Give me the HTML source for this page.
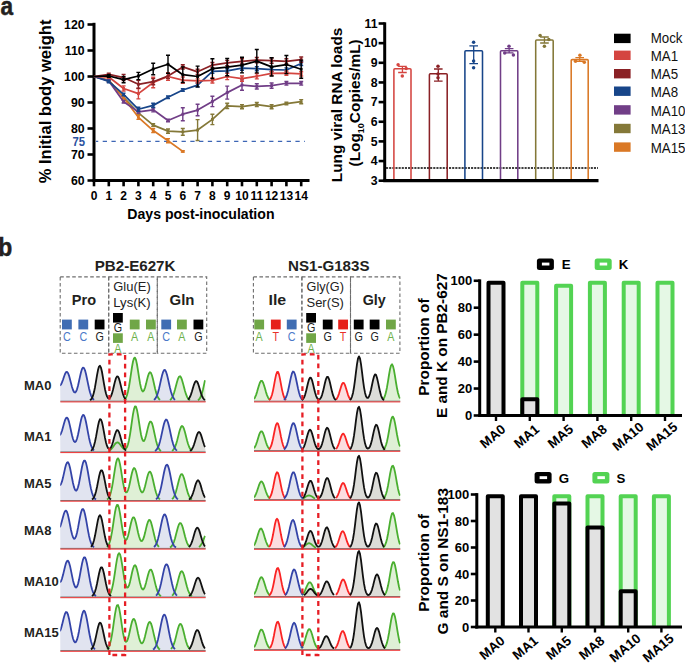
<!DOCTYPE html><html><head><meta charset="utf-8"><style>html,body{margin:0;padding:0;background:#fff;}svg{display:block;font-family:"Liberation Sans",sans-serif;}</style></head><body><svg width="685" height="664" viewBox="0 0 685 664"><text x="0.60" y="15.00" font-size="25.5" font-weight="bold" text-anchor="start" fill="#231f20" textLength="12.60" lengthAdjust="spacingAndGlyphs" stroke="#231f20" stroke-width="0.5">a</text>
<text x="-1.80" y="256.00" font-size="25.5" font-weight="bold" text-anchor="start" fill="#231f20" textLength="14.00" lengthAdjust="spacingAndGlyphs" stroke="#231f20" stroke-width="0.5">b</text>
<g stroke="#000" stroke-width="3" fill="none">
<line x1="94" y1="22.8" x2="94" y2="182"/>
<line x1="92.5" y1="180.5" x2="309.5" y2="180.5"/>
<line x1="87.5" y1="180.50" x2="94" y2="180.50" stroke-width="2.6"/>
<line x1="87.5" y1="154.50" x2="94" y2="154.50" stroke-width="2.6"/>
<line x1="87.5" y1="128.50" x2="94" y2="128.50" stroke-width="2.6"/>
<line x1="87.5" y1="102.50" x2="94" y2="102.50" stroke-width="2.6"/>
<line x1="87.5" y1="76.50" x2="94" y2="76.50" stroke-width="2.6"/>
<line x1="87.5" y1="50.50" x2="94" y2="50.50" stroke-width="2.6"/>
<line x1="87.5" y1="24.50" x2="94" y2="24.50" stroke-width="2.6"/>
<line x1="94.00" y1="180.5" x2="94.00" y2="186.3" stroke-width="2.6"/>
<line x1="108.80" y1="180.5" x2="108.80" y2="186.3" stroke-width="2.6"/>
<line x1="123.60" y1="180.5" x2="123.60" y2="186.3" stroke-width="2.6"/>
<line x1="138.40" y1="180.5" x2="138.40" y2="186.3" stroke-width="2.6"/>
<line x1="153.20" y1="180.5" x2="153.20" y2="186.3" stroke-width="2.6"/>
<line x1="168.00" y1="180.5" x2="168.00" y2="186.3" stroke-width="2.6"/>
<line x1="182.80" y1="180.5" x2="182.80" y2="186.3" stroke-width="2.6"/>
<line x1="197.60" y1="180.5" x2="197.60" y2="186.3" stroke-width="2.6"/>
<line x1="212.40" y1="180.5" x2="212.40" y2="186.3" stroke-width="2.6"/>
<line x1="227.20" y1="180.5" x2="227.20" y2="186.3" stroke-width="2.6"/>
<line x1="242.00" y1="180.5" x2="242.00" y2="186.3" stroke-width="2.6"/>
<line x1="256.80" y1="180.5" x2="256.80" y2="186.3" stroke-width="2.6"/>
<line x1="271.60" y1="180.5" x2="271.60" y2="186.3" stroke-width="2.6"/>
<line x1="286.40" y1="180.5" x2="286.40" y2="186.3" stroke-width="2.6"/>
<line x1="301.20" y1="180.5" x2="301.20" y2="186.3" stroke-width="2.6"/>
</g>
<text x="84.60" y="184.80" font-size="12.3" font-weight="bold" text-anchor="end" fill="#000" >60</text>
<text x="84.60" y="158.80" font-size="12.3" font-weight="bold" text-anchor="end" fill="#000" >70</text>
<text x="84.60" y="132.80" font-size="12.3" font-weight="bold" text-anchor="end" fill="#000" >80</text>
<text x="84.60" y="106.80" font-size="12.3" font-weight="bold" text-anchor="end" fill="#000" >90</text>
<text x="84.60" y="80.80" font-size="12.3" font-weight="bold" text-anchor="end" fill="#000" >100</text>
<text x="84.60" y="54.80" font-size="12.3" font-weight="bold" text-anchor="end" fill="#000" >110</text>
<text x="84.60" y="28.80" font-size="12.3" font-weight="bold" text-anchor="end" fill="#000" >120</text>
<text x="94.00" y="200.30" font-size="12" font-weight="bold" text-anchor="middle" fill="#000" >0</text>
<text x="108.80" y="200.30" font-size="12" font-weight="bold" text-anchor="middle" fill="#000" >1</text>
<text x="123.60" y="200.30" font-size="12" font-weight="bold" text-anchor="middle" fill="#000" >2</text>
<text x="138.40" y="200.30" font-size="12" font-weight="bold" text-anchor="middle" fill="#000" >3</text>
<text x="153.20" y="200.30" font-size="12" font-weight="bold" text-anchor="middle" fill="#000" >4</text>
<text x="168.00" y="200.30" font-size="12" font-weight="bold" text-anchor="middle" fill="#000" >5</text>
<text x="182.80" y="200.30" font-size="12" font-weight="bold" text-anchor="middle" fill="#000" >6</text>
<text x="197.60" y="200.30" font-size="12" font-weight="bold" text-anchor="middle" fill="#000" >7</text>
<text x="212.40" y="200.30" font-size="12" font-weight="bold" text-anchor="middle" fill="#000" >8</text>
<text x="227.20" y="200.30" font-size="12" font-weight="bold" text-anchor="middle" fill="#000" >9</text>
<text x="242.00" y="200.30" font-size="12" font-weight="bold" text-anchor="middle" fill="#000" >10</text>
<text x="256.80" y="200.30" font-size="12" font-weight="bold" text-anchor="middle" fill="#000" >11</text>
<text x="271.60" y="200.30" font-size="12" font-weight="bold" text-anchor="middle" fill="#000" >12</text>
<text x="286.40" y="200.30" font-size="12" font-weight="bold" text-anchor="middle" fill="#000" >13</text>
<text x="301.20" y="200.30" font-size="12" font-weight="bold" text-anchor="middle" fill="#000" >14</text>
<text x="85.00" y="146.30" font-size="12.8" font-weight="bold" text-anchor="end" fill="#2c52a0" textLength="12.60" lengthAdjust="spacingAndGlyphs" >75</text>
<line x1="96" y1="141.4" x2="305" y2="141.4" stroke="#3d66b5" stroke-width="1.2" stroke-dasharray="4.3 4.46" stroke-dashoffset="2.06"/>
<text x="127.30" y="218.50" font-size="14.5" font-weight="bold" text-anchor="start" fill="#000" textLength="147.20" lengthAdjust="spacingAndGlyphs" >Days post-inoculation</text>
<g transform="translate(50.6,183.3) rotate(-90)">
<text x="0.00" y="0.00" font-size="16.4" font-weight="bold" text-anchor="start" fill="#000" textLength="163.70" lengthAdjust="spacingAndGlyphs" >% Initial body weight</text>
</g>
<polyline points="94.00,76.50 108.80,80.40 123.60,97.30 138.40,112.90 153.20,125.12 168.00,131.10 182.80,131.88 197.60,130.06 212.40,119.40 227.20,105.88 242.00,106.66 256.80,104.58 271.60,106.66 286.40,103.54 301.20,101.72" fill="none" stroke="#847838" stroke-width="1.75" stroke-linejoin="round"/>
<g fill="#847838"><rect x="107.40" y="79.00" width="2.8" height="2.8"/><path d="M108.80 79.10V81.70M106.80 79.10h4M106.80 81.70h4" stroke="#847838" stroke-width="1.4" fill="none"/><rect x="122.20" y="95.90" width="2.8" height="2.8"/><path d="M123.60 96.00V98.60M121.60 96.00h4M121.60 98.60h4" stroke="#847838" stroke-width="1.4" fill="none"/><rect x="137.00" y="111.50" width="2.8" height="2.8"/><path d="M138.40 111.60V114.20M136.40 111.60h4M136.40 114.20h4" stroke="#847838" stroke-width="1.4" fill="none"/><rect x="151.80" y="123.72" width="2.8" height="2.8"/><path d="M153.20 123.82V126.42M151.20 123.82h4M151.20 126.42h4" stroke="#847838" stroke-width="1.4" fill="none"/><rect x="166.60" y="129.70" width="2.8" height="2.8"/><path d="M168.00 129.02V133.18M166.00 129.02h4M166.00 133.18h4" stroke="#847838" stroke-width="1.4" fill="none"/><rect x="181.40" y="130.48" width="2.8" height="2.8"/><path d="M182.80 128.50V135.26M180.80 128.50h4M180.80 135.26h4" stroke="#847838" stroke-width="1.4" fill="none"/><rect x="196.20" y="128.66" width="2.8" height="2.8"/><path d="M197.60 119.66V140.46M195.60 119.66h4M195.60 140.46h4" stroke="#847838" stroke-width="1.4" fill="none"/><rect x="211.00" y="118.00" width="2.8" height="2.8"/><path d="M212.40 114.20V124.60M210.40 114.20h4M210.40 124.60h4" stroke="#847838" stroke-width="1.4" fill="none"/><rect x="225.80" y="104.48" width="2.8" height="2.8"/><path d="M227.20 103.28V108.48M225.20 103.28h4M225.20 108.48h4" stroke="#847838" stroke-width="1.4" fill="none"/><rect x="240.60" y="105.26" width="2.8" height="2.8"/><path d="M242.00 104.58V108.74M240.00 104.58h4M240.00 108.74h4" stroke="#847838" stroke-width="1.4" fill="none"/><rect x="255.40" y="103.18" width="2.8" height="2.8"/><path d="M256.80 102.50V106.66M254.80 102.50h4M254.80 106.66h4" stroke="#847838" stroke-width="1.4" fill="none"/><rect x="270.20" y="105.26" width="2.8" height="2.8"/><path d="M271.60 104.58V108.74M269.60 104.58h4M269.60 108.74h4" stroke="#847838" stroke-width="1.4" fill="none"/><rect x="285.00" y="102.14" width="2.8" height="2.8"/><path d="M286.40 102.24V104.84M284.40 102.24h4M284.40 104.84h4" stroke="#847838" stroke-width="1.4" fill="none"/><rect x="299.80" y="100.32" width="2.8" height="2.8"/><path d="M301.20 99.64V103.80M299.20 99.64h4M299.20 103.80h4" stroke="#847838" stroke-width="1.4" fill="none"/></g>
<polyline points="94.00,76.50 108.80,80.40 123.60,97.82 138.40,117.32 153.20,130.58 168.00,140.72 182.80,151.38" fill="none" stroke="#da7825" stroke-width="1.75" stroke-linejoin="round"/>
<g fill="#da7825"><rect x="107.40" y="79.00" width="2.8" height="2.8"/><path d="M108.80 79.10V81.70M106.80 79.10h4M106.80 81.70h4" stroke="#da7825" stroke-width="1.4" fill="none"/><rect x="122.20" y="96.42" width="2.8" height="2.8"/><path d="M123.60 96.52V99.12M121.60 96.52h4M121.60 99.12h4" stroke="#da7825" stroke-width="1.4" fill="none"/><rect x="137.00" y="115.92" width="2.8" height="2.8"/><path d="M138.40 115.24V119.40M136.40 115.24h4M136.40 119.40h4" stroke="#da7825" stroke-width="1.4" fill="none"/><rect x="151.80" y="129.18" width="2.8" height="2.8"/><path d="M153.20 128.50V132.66M151.20 128.50h4M151.20 132.66h4" stroke="#da7825" stroke-width="1.4" fill="none"/><rect x="166.60" y="139.32" width="2.8" height="2.8"/><path d="M168.00 138.64V142.80M166.00 138.64h4M166.00 142.80h4" stroke="#da7825" stroke-width="1.4" fill="none"/><rect x="181.40" y="149.98" width="2.8" height="2.8"/><path d="M182.80 150.60V152.16M180.80 150.60h4M180.80 152.16h4" stroke="#da7825" stroke-width="1.4" fill="none"/></g>
<polyline points="94.00,76.50 108.80,80.92 123.60,101.72 138.40,111.86 153.20,109.78 168.00,120.44 182.80,114.20 197.60,110.04 212.40,101.46 227.20,92.62 242.00,85.08 256.80,86.38 271.60,85.60 286.40,83.26 301.20,83.26" fill="none" stroke="#713e87" stroke-width="1.75" stroke-linejoin="round"/>
<g fill="#713e87"><rect x="107.40" y="79.52" width="2.8" height="2.8"/><path d="M108.80 79.62V82.22M106.80 79.62h4M106.80 82.22h4" stroke="#713e87" stroke-width="1.4" fill="none"/><rect x="122.20" y="100.32" width="2.8" height="2.8"/><path d="M123.60 100.42V103.02M121.60 100.42h4M121.60 103.02h4" stroke="#713e87" stroke-width="1.4" fill="none"/><rect x="137.00" y="110.46" width="2.8" height="2.8"/><path d="M138.40 110.56V113.16M136.40 110.56h4M136.40 113.16h4" stroke="#713e87" stroke-width="1.4" fill="none"/><rect x="151.80" y="108.38" width="2.8" height="2.8"/><path d="M153.20 107.70V111.86M151.20 107.70h4M151.20 111.86h4" stroke="#713e87" stroke-width="1.4" fill="none"/><rect x="166.60" y="119.04" width="2.8" height="2.8"/><path d="M168.00 119.14V121.74M166.00 119.14h4M166.00 121.74h4" stroke="#713e87" stroke-width="1.4" fill="none"/><rect x="181.40" y="112.80" width="2.8" height="2.8"/><path d="M182.80 107.70V120.70M180.80 107.70h4M180.80 120.70h4" stroke="#713e87" stroke-width="1.4" fill="none"/><rect x="196.20" y="108.64" width="2.8" height="2.8"/><path d="M197.60 104.32V115.76M195.60 104.32h4M195.60 115.76h4" stroke="#713e87" stroke-width="1.4" fill="none"/><rect x="211.00" y="100.06" width="2.8" height="2.8"/><path d="M212.40 96.26V106.66M210.40 96.26h4M210.40 106.66h4" stroke="#713e87" stroke-width="1.4" fill="none"/><rect x="225.80" y="91.22" width="2.8" height="2.8"/><path d="M227.20 86.12V99.12M225.20 86.12h4M225.20 99.12h4" stroke="#713e87" stroke-width="1.4" fill="none"/><rect x="240.60" y="83.68" width="2.8" height="2.8"/><path d="M242.00 79.88V90.28M240.00 79.88h4M240.00 90.28h4" stroke="#713e87" stroke-width="1.4" fill="none"/><rect x="255.40" y="84.98" width="2.8" height="2.8"/><path d="M256.80 83.78V88.98M254.80 83.78h4M254.80 88.98h4" stroke="#713e87" stroke-width="1.4" fill="none"/><rect x="270.20" y="84.20" width="2.8" height="2.8"/><path d="M271.60 83.00V88.20M269.60 83.00h4M269.60 88.20h4" stroke="#713e87" stroke-width="1.4" fill="none"/><rect x="285.00" y="81.86" width="2.8" height="2.8"/><path d="M286.40 81.44V85.08M284.40 81.44h4M284.40 85.08h4" stroke="#713e87" stroke-width="1.4" fill="none"/><rect x="299.80" y="81.86" width="2.8" height="2.8"/><path d="M301.20 81.44V85.08M299.20 81.44h4M299.20 85.08h4" stroke="#713e87" stroke-width="1.4" fill="none"/></g>
<polyline points="94.00,76.50 108.80,81.44 123.60,94.44 138.40,109.26 153.20,105.36 168.00,97.30 182.80,90.02 197.60,85.08 212.40,71.30 227.20,70.78 242.00,68.18 256.80,68.70 271.60,69.74 286.40,70.00 301.20,63.50" fill="none" stroke="#174589" stroke-width="1.75" stroke-linejoin="round"/>
<g fill="#174589"><rect x="107.40" y="80.04" width="2.8" height="2.8"/><path d="M108.80 80.14V82.74M106.80 80.14h4M106.80 82.74h4" stroke="#174589" stroke-width="1.4" fill="none"/><rect x="122.20" y="93.04" width="2.8" height="2.8"/><path d="M123.60 93.14V95.74M121.60 93.14h4M121.60 95.74h4" stroke="#174589" stroke-width="1.4" fill="none"/><rect x="137.00" y="107.86" width="2.8" height="2.8"/><path d="M138.40 107.18V111.34M136.40 107.18h4M136.40 111.34h4" stroke="#174589" stroke-width="1.4" fill="none"/><rect x="151.80" y="103.96" width="2.8" height="2.8"/><path d="M153.20 103.28V107.44M151.20 103.28h4M151.20 107.44h4" stroke="#174589" stroke-width="1.4" fill="none"/><rect x="166.60" y="95.90" width="2.8" height="2.8"/><path d="M168.00 96.00V98.60M166.00 96.00h4M166.00 98.60h4" stroke="#174589" stroke-width="1.4" fill="none"/><rect x="181.40" y="88.62" width="2.8" height="2.8"/><path d="M182.80 88.72V91.32M180.80 88.72h4M180.80 91.32h4" stroke="#174589" stroke-width="1.4" fill="none"/><rect x="196.20" y="83.68" width="2.8" height="2.8"/><path d="M197.60 83.00V87.16M195.60 83.00h4M195.60 87.16h4" stroke="#174589" stroke-width="1.4" fill="none"/><rect x="211.00" y="69.90" width="2.8" height="2.8"/><path d="M212.40 69.22V73.38M210.40 69.22h4M210.40 73.38h4" stroke="#174589" stroke-width="1.4" fill="none"/><rect x="225.80" y="69.38" width="2.8" height="2.8"/><path d="M227.20 68.70V72.86M225.20 68.70h4M225.20 72.86h4" stroke="#174589" stroke-width="1.4" fill="none"/><rect x="240.60" y="66.78" width="2.8" height="2.8"/><path d="M242.00 66.10V70.26M240.00 66.10h4M240.00 70.26h4" stroke="#174589" stroke-width="1.4" fill="none"/><rect x="255.40" y="67.30" width="2.8" height="2.8"/><path d="M256.80 66.62V70.78M254.80 66.62h4M254.80 70.78h4" stroke="#174589" stroke-width="1.4" fill="none"/><rect x="270.20" y="68.34" width="2.8" height="2.8"/><path d="M271.60 67.66V71.82M269.60 67.66h4M269.60 71.82h4" stroke="#174589" stroke-width="1.4" fill="none"/><rect x="285.00" y="68.60" width="2.8" height="2.8"/><path d="M286.40 67.92V72.08M284.40 67.92h4M284.40 72.08h4" stroke="#174589" stroke-width="1.4" fill="none"/><rect x="299.80" y="62.10" width="2.8" height="2.8"/><path d="M301.20 61.42V65.58M299.20 61.42h4M299.20 65.58h4" stroke="#174589" stroke-width="1.4" fill="none"/></g>
<polyline points="94.00,76.50 108.80,77.02 123.60,88.46 138.40,93.66 153.20,82.48 168.00,76.50 182.80,80.14 197.60,80.92 212.40,80.40 227.20,76.50 242.00,78.58 256.80,76.24 271.60,73.38 286.40,73.12 301.20,73.90" fill="none" stroke="#d44540" stroke-width="1.75" stroke-linejoin="round"/>
<g fill="#d44540"><rect x="107.40" y="75.62" width="2.8" height="2.8"/><path d="M108.80 75.72V78.32M106.80 75.72h4M106.80 78.32h4" stroke="#d44540" stroke-width="1.4" fill="none"/><rect x="122.20" y="87.06" width="2.8" height="2.8"/><path d="M123.60 85.86V91.06M121.60 85.86h4M121.60 91.06h4" stroke="#d44540" stroke-width="1.4" fill="none"/><rect x="137.00" y="92.26" width="2.8" height="2.8"/><path d="M138.40 88.46V98.86M136.40 88.46h4M136.40 98.86h4" stroke="#d44540" stroke-width="1.4" fill="none"/><rect x="151.80" y="81.08" width="2.8" height="2.8"/><path d="M153.20 77.28V87.68M151.20 77.28h4M151.20 87.68h4" stroke="#d44540" stroke-width="1.4" fill="none"/><rect x="166.60" y="75.10" width="2.8" height="2.8"/><path d="M168.00 72.60V80.40M166.00 72.60h4M166.00 80.40h4" stroke="#d44540" stroke-width="1.4" fill="none"/><rect x="181.40" y="78.74" width="2.8" height="2.8"/><path d="M182.80 77.02V83.26M180.80 77.02h4M180.80 83.26h4" stroke="#d44540" stroke-width="1.4" fill="none"/><rect x="196.20" y="79.52" width="2.8" height="2.8"/><path d="M197.60 78.84V83.00M195.60 78.84h4M195.60 83.00h4" stroke="#d44540" stroke-width="1.4" fill="none"/><rect x="211.00" y="79.00" width="2.8" height="2.8"/><path d="M212.40 77.80V83.00M210.40 77.80h4M210.40 83.00h4" stroke="#d44540" stroke-width="1.4" fill="none"/><rect x="225.80" y="75.10" width="2.8" height="2.8"/><path d="M227.20 73.38V79.62M225.20 73.38h4M225.20 79.62h4" stroke="#d44540" stroke-width="1.4" fill="none"/><rect x="240.60" y="77.18" width="2.8" height="2.8"/><path d="M242.00 75.98V81.18M240.00 75.98h4M240.00 81.18h4" stroke="#d44540" stroke-width="1.4" fill="none"/><rect x="255.40" y="74.84" width="2.8" height="2.8"/><path d="M256.80 73.64V78.84M254.80 73.64h4M254.80 78.84h4" stroke="#d44540" stroke-width="1.4" fill="none"/><rect x="270.20" y="71.98" width="2.8" height="2.8"/><path d="M271.60 71.30V75.46M269.60 71.30h4M269.60 75.46h4" stroke="#d44540" stroke-width="1.4" fill="none"/><rect x="285.00" y="71.72" width="2.8" height="2.8"/><path d="M286.40 71.04V75.20M284.40 71.04h4M284.40 75.20h4" stroke="#d44540" stroke-width="1.4" fill="none"/><rect x="299.80" y="72.50" width="2.8" height="2.8"/><path d="M301.20 71.82V75.98M299.20 71.82h4M299.20 75.98h4" stroke="#d44540" stroke-width="1.4" fill="none"/></g>
<polyline points="94.00,76.50 108.80,74.42 123.60,77.54 138.40,84.30 153.20,81.70 168.00,75.98 182.80,66.88 197.60,71.82 212.40,65.06 227.20,62.98 242.00,61.42 256.80,60.12 271.60,60.64 286.40,61.42 301.20,59.60" fill="none" stroke="#8a2125" stroke-width="1.75" stroke-linejoin="round"/>
<g fill="#8a2125"><rect x="107.40" y="73.02" width="2.8" height="2.8"/><path d="M108.80 73.12V75.72M106.80 73.12h4M106.80 75.72h4" stroke="#8a2125" stroke-width="1.4" fill="none"/><rect x="122.20" y="76.14" width="2.8" height="2.8"/><path d="M123.60 74.42V80.66M121.60 74.42h4M121.60 80.66h4" stroke="#8a2125" stroke-width="1.4" fill="none"/><rect x="137.00" y="82.90" width="2.8" height="2.8"/><path d="M138.40 80.40V88.20M136.40 80.40h4M136.40 88.20h4" stroke="#8a2125" stroke-width="1.4" fill="none"/><rect x="151.80" y="80.30" width="2.8" height="2.8"/><path d="M153.20 78.58V84.82M151.20 78.58h4M151.20 84.82h4" stroke="#8a2125" stroke-width="1.4" fill="none"/><rect x="166.60" y="74.58" width="2.8" height="2.8"/><path d="M168.00 73.38V78.58M166.00 73.38h4M166.00 78.58h4" stroke="#8a2125" stroke-width="1.4" fill="none"/><rect x="181.40" y="65.48" width="2.8" height="2.8"/><path d="M182.80 64.80V68.96M180.80 64.80h4M180.80 68.96h4" stroke="#8a2125" stroke-width="1.4" fill="none"/><rect x="196.20" y="70.42" width="2.8" height="2.8"/><path d="M197.60 69.22V74.42M195.60 69.22h4M195.60 74.42h4" stroke="#8a2125" stroke-width="1.4" fill="none"/><rect x="211.00" y="63.66" width="2.8" height="2.8"/><path d="M212.40 62.46V67.66M210.40 62.46h4M210.40 67.66h4" stroke="#8a2125" stroke-width="1.4" fill="none"/><rect x="225.80" y="61.58" width="2.8" height="2.8"/><path d="M227.20 60.38V65.58M225.20 60.38h4M225.20 65.58h4" stroke="#8a2125" stroke-width="1.4" fill="none"/><rect x="240.60" y="60.02" width="2.8" height="2.8"/><path d="M242.00 58.82V64.02M240.00 58.82h4M240.00 64.02h4" stroke="#8a2125" stroke-width="1.4" fill="none"/><rect x="255.40" y="58.72" width="2.8" height="2.8"/><path d="M256.80 57.52V62.72M254.80 57.52h4M254.80 62.72h4" stroke="#8a2125" stroke-width="1.4" fill="none"/><rect x="270.20" y="59.24" width="2.8" height="2.8"/><path d="M271.60 58.04V63.24M269.60 58.04h4M269.60 63.24h4" stroke="#8a2125" stroke-width="1.4" fill="none"/><rect x="285.00" y="60.02" width="2.8" height="2.8"/><path d="M286.40 58.82V64.02M284.40 58.82h4M284.40 64.02h4" stroke="#8a2125" stroke-width="1.4" fill="none"/><rect x="299.80" y="58.20" width="2.8" height="2.8"/><path d="M301.20 57.00V62.20M299.20 57.00h4M299.20 62.20h4" stroke="#8a2125" stroke-width="1.4" fill="none"/></g>
<polyline points="94.00,76.50 108.80,75.98 123.60,79.62 138.40,75.98 153.20,68.96 168.00,64.28 182.80,74.68 197.60,76.50 212.40,68.70 227.20,67.14 242.00,65.06 256.80,61.16 271.60,66.88 286.40,64.54 301.20,69.22" fill="none" stroke="#000000" stroke-width="1.75" stroke-linejoin="round"/>
<g fill="#000000"><rect x="107.40" y="74.58" width="2.8" height="2.8"/><path d="M108.80 74.68V77.28M106.80 74.68h4M106.80 77.28h4" stroke="#000000" stroke-width="1.4" fill="none"/><rect x="122.20" y="78.22" width="2.8" height="2.8"/><path d="M123.60 76.50V82.74M121.60 76.50h4M121.60 82.74h4" stroke="#000000" stroke-width="1.4" fill="none"/><rect x="137.00" y="74.58" width="2.8" height="2.8"/><path d="M138.40 72.34V79.62M136.40 72.34h4M136.40 79.62h4" stroke="#000000" stroke-width="1.4" fill="none"/><rect x="151.80" y="67.56" width="2.8" height="2.8"/><path d="M153.20 63.24V74.68M151.20 63.24h4M151.20 74.68h4" stroke="#000000" stroke-width="1.4" fill="none"/><rect x="166.60" y="62.88" width="2.8" height="2.8"/><path d="M168.00 55.18V73.38M166.00 55.18h4M166.00 73.38h4" stroke="#000000" stroke-width="1.4" fill="none"/><rect x="181.40" y="73.28" width="2.8" height="2.8"/><path d="M182.80 66.88V82.48M180.80 66.88h4M180.80 82.48h4" stroke="#000000" stroke-width="1.4" fill="none"/><rect x="196.20" y="75.10" width="2.8" height="2.8"/><path d="M197.60 66.10V86.90M195.60 66.10h4M195.60 86.90h4" stroke="#000000" stroke-width="1.4" fill="none"/><rect x="211.00" y="67.30" width="2.8" height="2.8"/><path d="M212.40 58.82V78.58M210.40 58.82h4M210.40 78.58h4" stroke="#000000" stroke-width="1.4" fill="none"/><rect x="225.80" y="65.74" width="2.8" height="2.8"/><path d="M227.20 58.56V75.72M225.20 58.56h4M225.20 75.72h4" stroke="#000000" stroke-width="1.4" fill="none"/><rect x="240.60" y="63.66" width="2.8" height="2.8"/><path d="M242.00 57.26V72.86M240.00 57.26h4M240.00 72.86h4" stroke="#000000" stroke-width="1.4" fill="none"/><rect x="255.40" y="59.76" width="2.8" height="2.8"/><path d="M256.80 49.46V72.86M254.80 49.46h4M254.80 72.86h4" stroke="#000000" stroke-width="1.4" fill="none"/><rect x="270.20" y="65.48" width="2.8" height="2.8"/><path d="M271.60 57.78V75.98M269.60 57.78h4M269.60 75.98h4" stroke="#000000" stroke-width="1.4" fill="none"/><rect x="285.00" y="63.14" width="2.8" height="2.8"/><path d="M286.40 55.44V73.64M284.40 55.44h4M284.40 73.64h4" stroke="#000000" stroke-width="1.4" fill="none"/><rect x="299.80" y="67.82" width="2.8" height="2.8"/><path d="M301.20 60.12V78.32M299.20 60.12h4M299.20 78.32h4" stroke="#000000" stroke-width="1.4" fill="none"/></g>
<g stroke="#000" fill="none">
<line x1="384.7" y1="22.3" x2="384.7" y2="182" stroke-width="3"/>
<line x1="383.2" y1="180.7" x2="598.5" y2="180.7" stroke-width="3.2"/>
<line x1="378.6" y1="180.70" x2="384.7" y2="180.70" stroke-width="2.6"/>
<line x1="378.6" y1="161.05" x2="384.7" y2="161.05" stroke-width="2.6"/>
<line x1="378.6" y1="141.40" x2="384.7" y2="141.40" stroke-width="2.6"/>
<line x1="378.6" y1="121.75" x2="384.7" y2="121.75" stroke-width="2.6"/>
<line x1="378.6" y1="102.10" x2="384.7" y2="102.10" stroke-width="2.6"/>
<line x1="378.6" y1="82.45" x2="384.7" y2="82.45" stroke-width="2.6"/>
<line x1="378.6" y1="62.80" x2="384.7" y2="62.80" stroke-width="2.6"/>
<line x1="378.6" y1="43.15" x2="384.7" y2="43.15" stroke-width="2.6"/>
<line x1="378.6" y1="23.50" x2="384.7" y2="23.50" stroke-width="2.6"/>
</g>
<text x="377.60" y="185.00" font-size="12.3" font-weight="bold" text-anchor="end" fill="#000" >3</text>
<text x="377.60" y="165.35" font-size="12.3" font-weight="bold" text-anchor="end" fill="#000" >4</text>
<text x="377.60" y="145.70" font-size="12.3" font-weight="bold" text-anchor="end" fill="#000" >5</text>
<text x="377.60" y="126.05" font-size="12.3" font-weight="bold" text-anchor="end" fill="#000" >6</text>
<text x="377.60" y="106.40" font-size="12.3" font-weight="bold" text-anchor="end" fill="#000" >7</text>
<text x="377.60" y="86.75" font-size="12.3" font-weight="bold" text-anchor="end" fill="#000" >8</text>
<text x="377.60" y="67.10" font-size="12.3" font-weight="bold" text-anchor="end" fill="#000" >9</text>
<text x="377.60" y="47.45" font-size="12.3" font-weight="bold" text-anchor="end" fill="#000" >10</text>
<text x="377.60" y="27.80" font-size="12.3" font-weight="bold" text-anchor="end" fill="#000" >11</text>
<line x1="386" y1="168" x2="598" y2="168" stroke="#000" stroke-width="1.3" stroke-dasharray="2.1 1.05"/>
<path d="M393.90 179V69.80Q393.90 68.80 394.90 68.80H410.00Q411.00 68.80 411.00 69.80V179" fill="none" stroke="#d44540" stroke-width="1.55"/>
<path d="M402.45 66.40V72.50M398.15 66.40h8.6M398.15 72.50h8.6" stroke="#d44540" stroke-width="1.3" fill="none"/>
<circle cx="398.10" cy="64.80" r="1.75" fill="#d44540"/>
<circle cx="406.20" cy="68.60" r="1.75" fill="#d44540"/>
<circle cx="402.30" cy="76.00" r="1.75" fill="#d44540"/>
<path d="M429.40 179V74.70Q429.40 73.70 430.40 73.70H446.20Q447.20 73.70 447.20 74.70V179" fill="none" stroke="#8a2125" stroke-width="1.55"/>
<path d="M438.30 69.00V81.10M434.00 69.00h8.6M434.00 81.10h8.6" stroke="#8a2125" stroke-width="1.3" fill="none"/>
<circle cx="438.00" cy="66.20" r="1.75" fill="#8a2125"/>
<circle cx="438.00" cy="77.80" r="1.75" fill="#8a2125"/>
<circle cx="438.00" cy="74.00" r="1.75" fill="#8a2125"/>
<path d="M464.90 179V51.75Q464.90 50.75 465.90 50.75H481.50Q482.50 50.75 482.50 51.75V179" fill="none" stroke="#174589" stroke-width="1.55"/>
<path d="M473.70 45.90V63.70M469.40 45.90h8.6M469.40 63.70h8.6" stroke="#174589" stroke-width="1.3" fill="none"/>
<circle cx="473.60" cy="42.30" r="1.75" fill="#174589"/>
<circle cx="473.60" cy="61.10" r="1.75" fill="#174589"/>
<circle cx="473.60" cy="67.80" r="1.75" fill="#174589"/>
<path d="M500.50 179V51.75Q500.50 50.75 501.50 50.75H516.80Q517.80 50.75 517.80 51.75V179" fill="none" stroke="#713e87" stroke-width="1.55"/>
<path d="M509.15 48.60V52.90M504.85 48.60h8.6M504.85 52.90h8.6" stroke="#713e87" stroke-width="1.3" fill="none"/>
<circle cx="509.00" cy="46.20" r="1.75" fill="#713e87"/>
<circle cx="504.70" cy="52.90" r="1.75" fill="#713e87"/>
<circle cx="513.40" cy="55.00" r="1.75" fill="#713e87"/>
<path d="M535.70 179V40.90Q535.70 39.90 536.70 39.90H552.20Q553.20 39.90 553.20 40.90V179" fill="none" stroke="#847838" stroke-width="1.55"/>
<path d="M544.45 37.00V43.00M540.15 37.00h8.6M540.15 43.00h8.6" stroke="#847838" stroke-width="1.3" fill="none"/>
<circle cx="540.10" cy="35.50" r="1.75" fill="#847838"/>
<circle cx="548.80" cy="39.40" r="1.75" fill="#847838"/>
<circle cx="544.40" cy="46.30" r="1.75" fill="#847838"/>
<path d="M571.20 179V60.60Q571.20 59.60 572.20 59.60H587.20Q588.20 59.60 588.20 60.60V179" fill="none" stroke="#da7825" stroke-width="1.55"/>
<path d="M579.70 57.60V61.30M575.40 57.60h8.6M575.40 61.30h8.6" stroke="#da7825" stroke-width="1.3" fill="none"/>
<circle cx="579.90" cy="55.20" r="1.75" fill="#da7825"/>
<circle cx="575.50" cy="61.30" r="1.75" fill="#da7825"/>
<circle cx="584.30" cy="62.20" r="1.75" fill="#da7825"/>
<g transform="translate(342.4,182.2) rotate(-90)">
<text x="0.00" y="0.00" font-size="15.4" font-weight="bold" text-anchor="start" fill="#000" textLength="154.50" lengthAdjust="spacingAndGlyphs" >Lung viral RNA loads</text>
</g>
<g transform="translate(360.4,166.5) rotate(-90)">
<text x="0" y="0" font-size="15.4" font-weight="bold" fill="#000" textLength="127.2" lengthAdjust="spacingAndGlyphs">(Log<tspan font-size="9" dy="3.5">10</tspan><tspan dy="-3.5">Copies/mL)</tspan></text>
</g>
<rect x="614" y="33.70" width="16.6" height="9.4" fill="#000000"/>
<text x="650.70" y="42.90" font-size="15.3" font-weight="normal" text-anchor="start" fill="#111" textLength="31.80" lengthAdjust="spacingAndGlyphs" >Mock</text>
<rect x="614" y="50.60" width="16.6" height="9.4" fill="#d44540"/>
<text x="650.70" y="60.50" font-size="15.3" font-weight="normal" text-anchor="start" fill="#111" textLength="27.37" lengthAdjust="spacingAndGlyphs" >MA1</text>
<rect x="614" y="69.00" width="16.6" height="9.4" fill="#8a2125"/>
<text x="650.70" y="79.00" font-size="15.3" font-weight="normal" text-anchor="start" fill="#111" textLength="27.37" lengthAdjust="spacingAndGlyphs" >MA5</text>
<rect x="614" y="86.50" width="16.6" height="9.4" fill="#174589"/>
<text x="650.70" y="97.00" font-size="15.3" font-weight="normal" text-anchor="start" fill="#111" textLength="27.37" lengthAdjust="spacingAndGlyphs" >MA8</text>
<rect x="614" y="105.20" width="16.6" height="9.4" fill="#713e87"/>
<text x="650.70" y="116.00" font-size="15.3" font-weight="normal" text-anchor="start" fill="#111" textLength="34.77" lengthAdjust="spacingAndGlyphs" >MA10</text>
<rect x="614" y="123.80" width="16.6" height="9.4" fill="#847838"/>
<text x="650.70" y="133.90" font-size="15.3" font-weight="normal" text-anchor="start" fill="#111" textLength="34.77" lengthAdjust="spacingAndGlyphs" >MA13</text>
<rect x="614" y="142.40" width="16.6" height="9.4" fill="#da7825"/>
<text x="650.70" y="152.90" font-size="15.3" font-weight="normal" text-anchor="start" fill="#111" textLength="34.77" lengthAdjust="spacingAndGlyphs" >MA15</text>
<text x="94.70" y="271.20" font-size="15" font-weight="bold" text-anchor="start" fill="#231f20" textLength="80.80" lengthAdjust="spacingAndGlyphs" >PB2-E627K</text>
<rect x="60.2" y="276.9" width="48.50" height="76.30" fill="none" stroke="#6e6e6e" stroke-width="1.1" stroke-dasharray="3.6 2.4"/>
<rect x="108.7" y="276.9" width="48.60" height="76.30" fill="none" stroke="#6e6e6e" stroke-width="1.1" stroke-dasharray="3.6 2.4"/>
<rect x="157.3" y="276.9" width="49.40" height="76.30" fill="none" stroke="#6e6e6e" stroke-width="1.1" stroke-dasharray="3.6 2.4"/>
<text x="71.80" y="305.00" font-size="14.5" font-weight="bold" text-anchor="start" fill="#231f20" textLength="24.20" lengthAdjust="spacingAndGlyphs" >Pro</text>
<text x="169.50" y="305.00" font-size="14.5" font-weight="bold" text-anchor="start" fill="#231f20" textLength="25.00" lengthAdjust="spacingAndGlyphs" >Gln</text>
<text x="113.30" y="291.40" font-size="12" font-weight="normal" text-anchor="start" fill="#222" textLength="37.40" lengthAdjust="spacingAndGlyphs" >Glu(E)</text>
<text x="113.30" y="306.90" font-size="12" font-weight="normal" text-anchor="start" fill="#222" textLength="37.40" lengthAdjust="spacingAndGlyphs" >Lys(K)</text>
<rect x="62.00" y="319.6" width="9.8" height="9.8" fill="#406db3"/>
<text x="66.90" y="341.40" font-size="12.5" font-weight="normal" text-anchor="middle" fill="#4a78c8" textLength="7.76" lengthAdjust="spacingAndGlyphs" >C</text>
<rect x="78.40" y="319.6" width="9.8" height="9.8" fill="#406db3"/>
<text x="83.30" y="341.40" font-size="12.5" font-weight="normal" text-anchor="middle" fill="#4a78c8" textLength="7.76" lengthAdjust="spacingAndGlyphs" >C</text>
<rect x="94.70" y="319.6" width="9.8" height="9.8" fill="#000"/>
<text x="99.60" y="341.40" font-size="12.5" font-weight="normal" text-anchor="middle" fill="#222" textLength="8.36" lengthAdjust="spacingAndGlyphs" >G</text>
<rect x="129.80" y="319.6" width="9.8" height="9.8" fill="#70a647"/>
<text x="134.70" y="341.40" font-size="12.5" font-weight="normal" text-anchor="middle" fill="#6db04b" textLength="7.17" lengthAdjust="spacingAndGlyphs" >A</text>
<rect x="146.00" y="319.6" width="9.8" height="9.8" fill="#70a647"/>
<text x="150.90" y="341.40" font-size="12.5" font-weight="normal" text-anchor="middle" fill="#6db04b" textLength="7.17" lengthAdjust="spacingAndGlyphs" >A</text>
<rect x="161.30" y="319.6" width="9.8" height="9.8" fill="#406db3"/>
<text x="166.20" y="341.40" font-size="12.5" font-weight="normal" text-anchor="middle" fill="#4a78c8" textLength="7.76" lengthAdjust="spacingAndGlyphs" >C</text>
<rect x="177.00" y="319.6" width="9.8" height="9.8" fill="#70a647"/>
<text x="181.90" y="341.40" font-size="12.5" font-weight="normal" text-anchor="middle" fill="#6db04b" textLength="7.17" lengthAdjust="spacingAndGlyphs" >A</text>
<rect x="193.50" y="319.6" width="9.8" height="9.8" fill="#000"/>
<text x="198.40" y="341.40" font-size="12.5" font-weight="normal" text-anchor="middle" fill="#222" textLength="8.36" lengthAdjust="spacingAndGlyphs" >G</text>
<rect x="113.00" y="313" width="9.8" height="9.6" fill="#000"/>
<text x="117.90" y="332.20" font-size="12.5" font-weight="normal" text-anchor="middle" fill="#222" textLength="8.36" lengthAdjust="spacingAndGlyphs" >G</text>
<rect x="113.00" y="333.3" width="9.8" height="9.6" fill="#70a647"/>
<text x="117.90" y="353.00" font-size="12.5" font-weight="normal" text-anchor="middle" fill="#6db04b" textLength="7.17" lengthAdjust="spacingAndGlyphs" >A</text>
<text x="288.00" y="271.20" font-size="15" font-weight="bold" text-anchor="start" fill="#231f20" textLength="81.50" lengthAdjust="spacingAndGlyphs" >NS1-G183S</text>
<rect x="253.4" y="276.9" width="48.50" height="76.30" fill="none" stroke="#6e6e6e" stroke-width="1.1" stroke-dasharray="3.6 2.4"/>
<rect x="301.9" y="276.9" width="48.60" height="76.30" fill="none" stroke="#6e6e6e" stroke-width="1.1" stroke-dasharray="3.6 2.4"/>
<rect x="350.5" y="276.9" width="49.40" height="76.30" fill="none" stroke="#6e6e6e" stroke-width="1.1" stroke-dasharray="3.6 2.4"/>
<text x="268.50" y="305.00" font-size="14.5" font-weight="bold" text-anchor="start" fill="#231f20" textLength="17.70" lengthAdjust="spacingAndGlyphs" >Ile</text>
<text x="362.70" y="305.00" font-size="14.5" font-weight="bold" text-anchor="start" fill="#231f20" textLength="23.10" lengthAdjust="spacingAndGlyphs" >Gly</text>
<text x="306.50" y="291.40" font-size="12" font-weight="normal" text-anchor="start" fill="#222" textLength="37.40" lengthAdjust="spacingAndGlyphs" >Gly(G)</text>
<text x="306.50" y="306.90" font-size="12" font-weight="normal" text-anchor="start" fill="#222" textLength="37.40" lengthAdjust="spacingAndGlyphs" >Ser(S)</text>
<rect x="254.30" y="319.6" width="9.8" height="9.8" fill="#70a647"/>
<text x="259.20" y="341.40" font-size="12.5" font-weight="normal" text-anchor="middle" fill="#6db04b" textLength="7.17" lengthAdjust="spacingAndGlyphs" >A</text>
<rect x="270.90" y="319.6" width="9.8" height="9.8" fill="#e6201a"/>
<text x="275.80" y="341.40" font-size="12.5" font-weight="normal" text-anchor="middle" fill="#e8302b" textLength="6.57" lengthAdjust="spacingAndGlyphs" >T</text>
<rect x="286.80" y="319.6" width="9.8" height="9.8" fill="#406db3"/>
<text x="291.70" y="341.40" font-size="12.5" font-weight="normal" text-anchor="middle" fill="#4a78c8" textLength="7.76" lengthAdjust="spacingAndGlyphs" >C</text>
<rect x="322.80" y="319.6" width="9.8" height="9.8" fill="#000"/>
<text x="327.70" y="341.40" font-size="12.5" font-weight="normal" text-anchor="middle" fill="#222" textLength="8.36" lengthAdjust="spacingAndGlyphs" >G</text>
<rect x="338.20" y="319.6" width="9.8" height="9.8" fill="#e6201a"/>
<text x="343.10" y="341.40" font-size="12.5" font-weight="normal" text-anchor="middle" fill="#e8302b" textLength="6.57" lengthAdjust="spacingAndGlyphs" >T</text>
<rect x="353.80" y="319.6" width="9.8" height="9.8" fill="#000"/>
<text x="358.70" y="341.40" font-size="12.5" font-weight="normal" text-anchor="middle" fill="#222" textLength="8.36" lengthAdjust="spacingAndGlyphs" >G</text>
<rect x="369.70" y="319.6" width="9.8" height="9.8" fill="#000"/>
<text x="374.60" y="341.40" font-size="12.5" font-weight="normal" text-anchor="middle" fill="#222" textLength="8.36" lengthAdjust="spacingAndGlyphs" >G</text>
<rect x="386.00" y="319.6" width="9.8" height="9.8" fill="#70a647"/>
<text x="390.90" y="341.40" font-size="12.5" font-weight="normal" text-anchor="middle" fill="#6db04b" textLength="7.17" lengthAdjust="spacingAndGlyphs" >A</text>
<rect x="306.20" y="313" width="9.8" height="9.6" fill="#000"/>
<text x="311.10" y="332.20" font-size="12.5" font-weight="normal" text-anchor="middle" fill="#222" textLength="8.36" lengthAdjust="spacingAndGlyphs" >G</text>
<rect x="306.20" y="333.3" width="9.8" height="9.6" fill="#70a647"/>
<text x="311.10" y="353.00" font-size="12.5" font-weight="normal" text-anchor="middle" fill="#6db04b" textLength="7.17" lengthAdjust="spacingAndGlyphs" >A</text>
<clipPath id="cl"><rect x="60.2" y="340" width="145.6" height="320"/></clipPath>
<clipPath id="cr"><rect x="254" y="340" width="146.5" height="320"/></clipPath>
<g clip-path="url(#cl)">
<path d="M60 401.0 61 401.0 62 401.0 63 401.0 64 401.0 65 401.0 66 401.0 67 401.0 68 401.0 69 401.0 70 401.0 71 401.0 72 401.0 73 401.0 74 401.0 75 401.0 76 401.0 77 401.0 78 401.0 79 401.0 80 401.0 81 401.0 82 401.0 83 401.0 84 401.0 85 401.0 86 401.0 87 401.0 88 401.0 89 401.0 90 401.0 91 401.0 92 401.0 93 401.0 94 401.0 95 401.0 96 401.0 97 401.0 98 401.0 99 401.0 100 401.0 101 401.0 102 401.0 103 401.0 104 401.0 105 401.0 106 401.0 107 401.0 108 401.0 109 401.0 110 401.0 111 401.0 112 401.0 113 401.0 114 401.0 115 401.0 116 401.0 117 401.0 118 401.0 119 401.0 120 401.0 121 400.9 122 400.8 123 400.6 124 400.1 125 399.2 126 397.6 127 395.1 128 391.4 129 386.5 130 380.4 131 373.6 132 367.0 133 361.5 134 358.2 135 357.6 136 359.9 137 364.5 138 370.7 139 377.2 140 383.2 141 387.8 142 390.6 143 391.5 144 390.4 145 387.8 146 384.1 147 379.9 148 376.1 149 373.3 150 372.2 151 373.0 152 375.5 153 379.3 154 383.8 155 388.2 156 392.1 157 395.2 158 397.5 159 399.0 160 399.9 161 400.5 162 400.8 163 400.9 164 401.0 165 401.0 166 401.0 167 400.9 168 400.8 169 400.5 170 400.0 171 399.2 172 397.8 173 395.8 174 393.0 175 389.6 176 385.8 177 382.0 178 378.8 179 376.7 180 376.2 181 377.4 182 379.9 183 383.4 184 387.3 185 391.0 186 394.2 187 396.7 188 398.4 189 399.6 190 400.3 191 400.6 192 400.8 193 400.9 194 400.9 195 400.9 196 400.8 197 400.6 198 400.2 199 399.4 200 398.1 201 396.0 202 393.1 203 389.4 204 384.9 205 380.2 L205.8 401.0 L60.2 401.0Z" fill="#dff0d6" stroke="none"/>
<path d="M60 385.7 61 384.5 62 382.4 63 379.7 64 376.7 65 374.0 66 372.2 67 371.9 68 373.0 69 375.6 70 379.2 71 383.1 72 387.0 73 390.0 74 392.0 75 392.6 76 391.7 77 389.3 78 385.7 79 381.3 80 376.6 81 372.3 82 369.1 83 367.6 84 368.0 85 370.3 86 374.0 87 378.7 88 383.6 89 388.3 90 392.2 91 395.3 92 397.5 93 399.0 94 399.9 95 400.4 96 400.7 97 400.9 98 400.9 99 401.0 100 401.0 101 401.0 102 401.0 103 401.0 104 401.0 105 401.0 106 401.0 107 401.0 108 401.0 109 401.0 110 401.0 111 401.0 112 401.0 113 401.0 114 401.0 115 401.0 116 401.0 117 401.0 118 401.0 119 401.0 120 401.0 121 401.0 122 401.0 123 401.0 124 401.0 125 401.0 126 401.0 127 401.0 128 401.0 129 401.0 130 401.0 131 401.0 132 401.0 133 401.0 134 401.0 135 401.0 136 401.0 137 401.0 138 401.0 139 401.0 140 401.0 141 401.0 142 401.0 143 401.0 144 401.0 145 401.0 146 401.0 147 401.0 148 401.0 149 401.0 150 400.9 151 400.9 152 400.7 153 400.4 154 399.9 155 399.0 156 397.6 157 395.4 158 392.5 159 388.8 160 384.4 161 379.8 162 375.6 163 372.2 164 370.2 165 370.0 166 371.7 167 374.8 168 378.9 169 383.5 170 387.9 171 391.8 172 394.9 173 397.2 174 398.8 175 399.8 176 400.3 177 400.7 178 400.9 179 400.9 180 401.0 181 401.0 182 401.0 183 401.0 184 401.0 185 401.0 186 401.0 187 401.0 188 401.0 189 401.0 190 401.0 191 401.0 192 401.0 193 401.0 194 401.0 195 401.0 196 401.0 197 401.0 198 401.0 199 401.0 200 401.0 201 401.0 202 401.0 203 401.0 204 401.0 205 401.0 L205.8 401.0 L60.2 401.0Z" fill="#e1e4f0" stroke="none"/>
<path d="M60 401.0 61 401.0 62 401.0 63 401.0 64 401.0 65 401.0 66 401.0 67 401.0 68 401.0 69 401.0 70 401.0 71 401.0 72 401.0 73 401.0 74 401.0 75 401.0 76 401.0 77 401.0 78 401.0 79 401.0 80 401.0 81 401.0 82 401.0 83 401.0 84 401.0 85 401.0 86 401.0 87 401.0 88 400.9 89 400.7 90 400.3 91 399.5 92 398.1 93 395.7 94 392.1 95 387.2 96 381.4 97 375.4 98 370.1 99 366.6 100 365.8 101 367.7 102 372.0 103 377.8 104 383.8 105 389.2 106 393.5 107 396.4 108 398.1 109 398.5 110 397.8 111 396.1 112 393.4 113 389.7 114 385.5 115 381.4 116 378.1 117 376.4 118 376.6 119 378.7 120 382.2 121 386.4 122 390.5 123 394.1 124 396.8 125 398.7 126 399.8 127 400.4 128 400.7 129 400.9 130 401.0 131 401.0 132 401.0 133 401.0 134 401.0 135 401.0 136 401.0 137 401.0 138 401.0 139 401.0 140 401.0 141 401.0 142 401.0 143 401.0 144 401.0 145 401.0 146 401.0 147 401.0 148 401.0 149 401.0 150 401.0 151 401.0 152 401.0 153 401.0 154 401.0 155 401.0 156 401.0 157 401.0 158 401.0 159 401.0 160 401.0 161 401.0 162 401.0 163 401.0 164 401.0 165 401.0 166 401.0 167 401.0 168 401.0 169 401.0 170 401.0 171 401.0 172 401.0 173 401.0 174 401.0 175 401.0 176 401.0 177 401.0 178 401.0 179 401.0 180 401.0 181 401.0 182 401.0 183 401.0 184 401.0 185 400.9 186 400.7 187 400.4 188 399.7 189 398.6 190 396.8 191 394.4 192 391.3 193 387.8 194 384.6 195 382.1 196 381.0 197 381.5 198 383.5 199 386.5 200 389.9 201 393.2 202 395.9 203 398.0 204 399.3 205 400.2 L205.8 401.0 L60.2 401.0Z" fill="#dcdcd8" stroke="none"/>
<path d="M124 400.1 125 399.2 126 397.6 127 395.1 128 391.4 129 386.5 130 380.4 131 373.6 132 367.0 133 361.5 134 358.2 135 357.6 136 359.9 137 364.5 138 370.7 139 377.2 140 383.2 141 387.8 142 390.6 143 391.5 144 390.4 145 387.8 146 384.1 147 379.9 148 376.1 149 373.3 150 372.2 151 373.0 152 375.5 153 379.3 154 383.8 155 388.2 156 392.1 157 395.2 158 397.5 159 399.0 160 399.9M170 400.0 171 399.2 172 397.8 173 395.8 174 393.0 175 389.6 176 385.8 177 382.0 178 378.8 179 376.7 180 376.2 181 377.4 182 379.9 183 383.4 184 387.3 185 391.0 186 394.2 187 396.7 188 398.4 189 399.6 190 400.3M198 400.2 199 399.4 200 398.1 201 396.0 202 393.1 203 389.4 204 384.9 205 380.2" fill="none" stroke="#4aaf30" stroke-width="1.8" stroke-linejoin="round"/>
<path d="M60 385.7 61 384.5 62 382.4 63 379.7 64 376.7 65 374.0 66 372.2 67 371.9 68 373.0 69 375.6 70 379.2 71 383.1 72 387.0 73 390.0 74 392.0 75 392.6 76 391.7 77 389.3 78 385.7 79 381.3 80 376.6 81 372.3 82 369.1 83 367.6 84 368.0 85 370.3 86 374.0 87 378.7 88 383.6 89 388.3 90 392.2 91 395.3 92 397.5 93 399.0 94 399.9M154 399.9 155 399.0 156 397.6 157 395.4 158 392.5 159 388.8 160 384.4 161 379.8 162 375.6 163 372.2 164 370.2 165 370.0 166 371.7 167 374.8 168 378.9 169 383.5 170 387.9 171 391.8 172 394.9 173 397.2 174 398.8 175 399.8" fill="none" stroke="#3444a8" stroke-width="1.8" stroke-linejoin="round"/>
<path d="M90 400.3 91 399.5 92 398.1 93 395.7 94 392.1 95 387.2 96 381.4 97 375.4 98 370.1 99 366.6 100 365.8 101 367.7 102 372.0 103 377.8 104 383.8 105 389.2 106 393.5 107 396.4 108 398.1 109 398.5 110 397.8 111 396.1 112 393.4 113 389.7 114 385.5 115 381.4 116 378.1 117 376.4 118 376.6 119 378.7 120 382.2 121 386.4 122 390.5 123 394.1 124 396.8 125 398.7 126 399.8M188 399.7 189 398.6 190 396.8 191 394.4 192 391.3 193 387.8 194 384.6 195 382.1 196 381.0 197 381.5 198 383.5 199 386.5 200 389.9 201 393.2 202 395.9 203 398.0 204 399.3 205 400.2" fill="none" stroke="#111111" stroke-width="1.8" stroke-linejoin="round"/>
<line x1="60.2" y1="401.20" x2="205.8" y2="401.20" stroke="#555" stroke-width="0.8"/>
<line x1="60.2" y1="401.90" x2="205.8" y2="401.90" stroke="#f03434" stroke-width="1"/>
<path d="M60 451.7 61 451.7 62 451.7 63 451.7 64 451.7 65 451.7 66 451.7 67 451.7 68 451.7 69 451.7 70 451.7 71 451.7 72 451.7 73 451.7 74 451.7 75 451.7 76 451.7 77 451.7 78 451.7 79 451.7 80 451.7 81 451.7 82 451.7 83 451.7 84 451.7 85 451.7 86 451.7 87 451.7 88 451.7 89 451.7 90 451.7 91 451.7 92 451.7 93 451.7 94 451.7 95 451.7 96 451.7 97 451.7 98 451.7 99 451.7 100 451.7 101 451.7 102 451.7 103 451.7 104 451.7 105 451.6 106 451.6 107 451.5 108 451.2 109 450.8 110 450.2 111 449.4 112 448.2 113 446.9 114 445.4 115 444.0 116 443.0 117 442.4 118 442.5 119 443.2 120 444.3 121 445.7 122 447.0 123 448.2 124 449.0 125 449.2 126 448.6 127 447.1 128 444.3 129 440.2 130 434.6 131 428.0 132 420.9 133 414.2 134 409.1 135 406.4 136 406.7 137 409.9 138 415.3 139 422.0 140 428.7 141 434.5 142 438.7 143 440.9 144 441.0 145 439.1 146 435.8 147 431.6 148 427.4 149 423.8 150 421.7 151 421.6 152 423.3 153 426.7 154 431.2 155 435.9 156 440.4 157 444.1 158 446.9 159 448.9 160 450.2 161 450.9 162 451.3 163 451.5 164 451.6 165 451.7 166 451.7 167 451.7 168 451.7 169 451.6 170 451.5 171 451.3 172 450.9 173 450.1 174 448.9 175 447.0 176 444.4 177 441.0 178 437.1 179 433.1 180 429.6 181 427.0 182 426.0 183 426.7 184 428.9 185 432.3 186 436.3 187 440.3 188 443.8 189 446.5 190 448.6 191 449.9 192 450.8 193 451.2 194 451.5 195 451.6 196 451.7 197 451.7 198 451.7 199 451.7 200 451.7 201 451.7 202 451.7 203 451.7 204 451.7 205 451.7 L205.8 451.7 L60.2 451.7Z" fill="#dff0d6" stroke="none"/>
<path d="M60 435.2 61 433.4 62 430.7 63 427.2 64 423.5 65 420.2 66 418.1 67 417.6 68 418.9 69 421.9 70 426.1 71 430.8 72 435.3 73 439.0 74 441.3 75 442.1 76 441.3 77 438.7 78 434.8 79 430.0 80 424.8 81 420.1 82 416.6 83 414.9 84 415.3 85 417.8 86 422.0 87 427.1 88 432.6 89 437.7 90 442.0 91 445.4 92 447.8 93 449.5 94 450.5 95 451.1 96 451.4 97 451.6 98 451.6 99 451.7 100 451.7 101 451.7 102 451.7 103 451.7 104 451.7 105 451.7 106 451.7 107 451.7 108 451.7 109 451.7 110 451.7 111 451.7 112 451.7 113 451.7 114 451.7 115 451.7 116 451.7 117 451.7 118 451.7 119 451.7 120 451.7 121 451.7 122 451.7 123 451.7 124 451.7 125 451.7 126 451.7 127 451.7 128 451.7 129 451.7 130 451.7 131 451.7 132 451.7 133 451.7 134 451.7 135 451.7 136 451.7 137 451.7 138 451.7 139 451.7 140 451.7 141 451.7 142 451.7 143 451.7 144 451.7 145 451.7 146 451.7 147 451.7 148 451.7 149 451.7 150 451.7 151 451.7 152 451.6 153 451.5 154 451.3 155 450.9 156 450.2 157 449.1 158 447.3 159 444.8 160 441.4 161 437.3 162 432.6 163 428.0 164 423.8 165 420.9 166 419.5 167 420.1 168 422.5 169 426.2 170 430.7 171 435.5 172 439.9 173 443.6 174 446.4 175 448.5 176 449.8 177 450.7 178 451.2 179 451.5 180 451.6 181 451.7 182 451.7 183 451.7 184 451.7 185 451.7 186 451.7 187 451.7 188 451.7 189 451.7 190 451.7 191 451.7 192 451.7 193 451.7 194 451.7 195 451.7 196 451.7 197 451.7 198 451.7 199 451.7 200 451.7 201 451.7 202 451.7 203 451.7 204 451.7 205 451.7 L205.8 451.7 L60.2 451.7Z" fill="#e1e4f0" stroke="none"/>
<path d="M60 451.7 61 451.7 62 451.7 63 451.7 64 451.7 65 451.7 66 451.7 67 451.7 68 451.7 69 451.7 70 451.7 71 451.7 72 451.7 73 451.7 74 451.7 75 451.7 76 451.7 77 451.7 78 451.7 79 451.7 80 451.7 81 451.7 82 451.7 83 451.7 84 451.7 85 451.7 86 451.7 87 451.7 88 451.6 89 451.5 90 451.3 91 450.8 92 449.9 93 448.2 94 445.6 95 441.8 96 436.9 97 431.3 98 425.9 99 421.5 100 419.2 101 419.5 102 422.2 103 426.9 104 432.4 105 437.9 106 442.5 107 445.9 108 448.0 109 448.9 110 448.6 111 447.3 112 445.0 113 441.8 114 438.1 115 434.5 116 431.7 117 430.1 118 430.3 119 432.2 120 435.2 121 438.9 122 442.6 123 445.7 124 448.0 125 449.6 126 450.6 127 451.2 128 451.5 129 451.6 130 451.7 131 451.7 132 451.7 133 451.7 134 451.7 135 451.7 136 451.7 137 451.7 138 451.7 139 451.7 140 451.7 141 451.7 142 451.7 143 451.7 144 451.7 145 451.7 146 451.7 147 451.7 148 451.7 149 451.7 150 451.7 151 451.7 152 451.7 153 451.7 154 451.7 155 451.7 156 451.7 157 451.7 158 451.7 159 451.7 160 451.7 161 451.7 162 451.7 163 451.7 164 451.7 165 451.7 166 451.7 167 451.7 168 451.7 169 451.7 170 451.7 171 451.7 172 451.7 173 451.7 174 451.7 175 451.7 176 451.7 177 451.7 178 451.7 179 451.7 180 451.7 181 451.7 182 451.7 183 451.7 184 451.7 185 451.7 186 451.7 187 451.6 188 451.6 189 451.4 190 451.0 191 450.2 192 449.0 193 447.1 194 444.6 195 441.4 196 438.0 197 434.9 198 432.7 199 431.9 200 432.7 201 434.9 202 438.0 203 441.4 204 444.6 205 447.1 L205.8 451.7 L60.2 451.7Z" fill="#dcdcd8" stroke="none"/>
<path d="M109 450.8 110 450.2 111 449.4 112 448.2 113 446.9 114 445.4 115 444.0 116 443.0 117 442.4 118 442.5 119 443.2 120 444.3 121 445.7 122 447.0 123 448.2 124 449.0 125 449.2 126 448.6 127 447.1 128 444.3 129 440.2 130 434.6 131 428.0 132 420.9 133 414.2 134 409.1 135 406.4 136 406.7 137 409.9 138 415.3 139 422.0 140 428.7 141 434.5 142 438.7 143 440.9 144 441.0 145 439.1 146 435.8 147 431.6 148 427.4 149 423.8 150 421.7 151 421.6 152 423.3 153 426.7 154 431.2 155 435.9 156 440.4 157 444.1 158 446.9 159 448.9 160 450.2 161 450.9M172 450.9 173 450.1 174 448.9 175 447.0 176 444.4 177 441.0 178 437.1 179 433.1 180 429.6 181 427.0 182 426.0 183 426.7 184 428.9 185 432.3 186 436.3 187 440.3 188 443.8 189 446.5 190 448.6 191 449.9 192 450.8" fill="none" stroke="#4aaf30" stroke-width="1.8" stroke-linejoin="round"/>
<path d="M60 435.2 61 433.4 62 430.7 63 427.2 64 423.5 65 420.2 66 418.1 67 417.6 68 418.9 69 421.9 70 426.1 71 430.8 72 435.3 73 439.0 74 441.3 75 442.1 76 441.3 77 438.7 78 434.8 79 430.0 80 424.8 81 420.1 82 416.6 83 414.9 84 415.3 85 417.8 86 422.0 87 427.1 88 432.6 89 437.7 90 442.0 91 445.4 92 447.8 93 449.5 94 450.5M155 450.9 156 450.2 157 449.1 158 447.3 159 444.8 160 441.4 161 437.3 162 432.6 163 428.0 164 423.8 165 420.9 166 419.5 167 420.1 168 422.5 169 426.2 170 430.7 171 435.5 172 439.9 173 443.6 174 446.4 175 448.5 176 449.8 177 450.7" fill="none" stroke="#3444a8" stroke-width="1.8" stroke-linejoin="round"/>
<path d="M91 450.8 92 449.9 93 448.2 94 445.6 95 441.8 96 436.9 97 431.3 98 425.9 99 421.5 100 419.2 101 419.5 102 422.2 103 426.9 104 432.4 105 437.9 106 442.5 107 445.9 108 448.0 109 448.9 110 448.6 111 447.3 112 445.0 113 441.8 114 438.1 115 434.5 116 431.7 117 430.1 118 430.3 119 432.2 120 435.2 121 438.9 122 442.6 123 445.7 124 448.0 125 449.6 126 450.6M190 451.0 191 450.2 192 449.0 193 447.1 194 444.6 195 441.4 196 438.0 197 434.9 198 432.7 199 431.9 200 432.7 201 434.9 202 438.0 203 441.4 204 444.6 205 447.1" fill="none" stroke="#111111" stroke-width="1.8" stroke-linejoin="round"/>
<line x1="60.2" y1="451.90" x2="205.8" y2="451.90" stroke="#555" stroke-width="0.8"/>
<line x1="60.2" y1="452.60" x2="205.8" y2="452.60" stroke="#f03434" stroke-width="1"/>
<path d="M60 500.3 61 500.3 62 500.3 63 500.3 64 500.3 65 500.3 66 500.3 67 500.3 68 500.3 69 500.3 70 500.3 71 500.3 72 500.3 73 500.3 74 500.3 75 500.3 76 500.3 77 500.3 78 500.3 79 500.3 80 500.3 81 500.3 82 500.3 83 500.3 84 500.3 85 500.3 86 500.3 87 500.3 88 500.3 89 500.3 90 500.3 91 500.3 92 500.3 93 500.3 94 500.3 95 500.3 96 500.3 97 500.3 98 500.3 99 500.3 100 500.3 101 500.3 102 500.3 103 500.3 104 500.2 105 500.1 106 499.9 107 499.5 108 498.8 109 497.4 110 495.2 111 491.9 112 487.3 113 481.6 114 475.2 115 468.7 116 463.1 117 459.4 118 458.3 119 460.0 120 464.1 121 469.8 122 476.3 123 482.4 124 487.4 125 490.8 126 492.4 127 492.1 128 490.1 129 486.7 130 482.2 131 477.3 132 472.8 133 469.5 134 468.0 135 468.7 136 471.3 137 475.4 138 480.2 139 484.9 140 488.8 141 491.4 142 492.5 143 491.9 144 489.8 145 486.5 146 482.4 147 478.1 148 474.5 149 472.2 150 471.6 151 473.0 152 475.9 153 480.0 154 484.5 155 488.8 156 492.5 157 495.3 158 497.3 159 498.6 160 499.4 161 499.9 162 500.1 163 500.2 164 500.3 165 500.3 166 500.3 167 500.3 168 500.3 169 500.2 170 500.0 171 499.7 172 499.2 173 498.3 174 496.7 175 494.5 176 491.5 177 487.8 178 483.7 179 479.7 180 476.4 181 474.4 182 474.1 183 475.5 184 478.3 185 482.1 186 486.2 187 490.1 188 493.4 189 495.9 190 497.7 191 498.9 192 499.6 193 499.9 194 500.1 195 500.2 196 500.3 197 500.3 198 500.3 199 500.3 200 500.3 201 500.3 202 500.3 203 500.3 204 500.3 205 500.3 L205.8 500.3 L60.2 500.3Z" fill="#dff0d6" stroke="none"/>
<path d="M60 485.5 61 484.0 62 481.4 63 477.6 64 473.1 65 468.6 66 464.8 67 462.5 68 462.2 69 464.1 70 467.7 71 472.6 72 478.0 73 483.0 74 487.1 75 489.8 76 490.7 77 489.9 78 487.3 79 483.2 80 478.0 81 472.3 82 467.0 83 462.9 84 460.6 85 460.6 86 462.9 87 467.1 88 472.5 89 478.4 90 484.0 91 488.9 92 492.8 93 495.6 94 497.6 95 498.8 96 499.5 97 499.9 98 500.1 99 500.2 100 500.3 101 500.3 102 500.3 103 500.3 104 500.3 105 500.3 106 500.3 107 500.3 108 500.3 109 500.3 110 500.3 111 500.3 112 500.3 113 500.3 114 500.3 115 500.3 116 500.3 117 500.3 118 500.3 119 500.3 120 500.3 121 500.3 122 500.3 123 500.3 124 500.3 125 500.3 126 500.3 127 500.3 128 500.3 129 500.3 130 500.3 131 500.3 132 500.3 133 500.3 134 500.3 135 500.3 136 500.3 137 500.3 138 500.3 139 500.3 140 500.3 141 500.3 142 500.3 143 500.3 144 500.3 145 500.3 146 500.3 147 500.3 148 500.3 149 500.3 150 500.3 151 500.3 152 500.3 153 500.2 154 500.0 155 499.8 156 499.3 157 498.4 158 496.9 159 494.7 160 491.6 161 487.6 162 482.8 163 477.6 164 472.5 165 468.2 166 465.4 167 464.6 168 465.9 169 469.0 170 473.5 171 478.6 172 483.8 173 488.5 174 492.3 175 495.2 176 497.3 177 498.6 178 499.4 179 499.8 180 500.1 181 500.2 182 500.3 183 500.3 184 500.3 185 500.3 186 500.3 187 500.3 188 500.3 189 500.3 190 500.3 191 500.3 192 500.3 193 500.3 194 500.3 195 500.3 196 500.3 197 500.3 198 500.3 199 500.3 200 500.3 201 500.3 202 500.3 203 500.3 204 500.3 205 500.3 L205.8 500.3 L60.2 500.3Z" fill="#e1e4f0" stroke="none"/>
<path d="M60 500.3 61 500.3 62 500.3 63 500.3 64 500.3 65 500.3 66 500.3 67 500.3 68 500.3 69 500.3 70 500.3 71 500.3 72 500.3 73 500.3 74 500.3 75 500.3 76 500.3 77 500.3 78 500.3 79 500.3 80 500.3 81 500.3 82 500.3 83 500.3 84 500.3 85 500.3 86 500.3 87 500.3 88 500.3 89 500.2 90 500.2 91 500.0 92 499.5 93 498.7 94 497.2 95 494.9 96 491.5 97 487.0 98 481.9 99 476.8 100 472.7 101 470.3 102 470.3 103 472.7 104 476.8 105 481.9 106 487.0 107 491.5 108 494.9 109 497.2 110 498.7 111 499.5 112 500.0 113 500.2 114 500.2 115 500.3 116 500.3 117 500.3 118 500.3 119 500.3 120 500.3 121 500.3 122 500.3 123 500.3 124 500.3 125 500.3 126 500.3 127 500.3 128 500.3 129 500.3 130 500.3 131 500.3 132 500.3 133 500.3 134 500.3 135 500.3 136 500.3 137 500.3 138 500.3 139 500.3 140 500.3 141 500.3 142 500.3 143 500.3 144 500.3 145 500.3 146 500.3 147 500.3 148 500.3 149 500.3 150 500.3 151 500.3 152 500.3 153 500.3 154 500.3 155 500.3 156 500.3 157 500.3 158 500.3 159 500.3 160 500.3 161 500.3 162 500.3 163 500.3 164 500.3 165 500.3 166 500.3 167 500.3 168 500.3 169 500.3 170 500.3 171 500.3 172 500.3 173 500.3 174 500.3 175 500.3 176 500.3 177 500.3 178 500.3 179 500.3 180 500.3 181 500.3 182 500.3 183 500.3 184 500.3 185 500.3 186 500.2 187 500.2 188 500.0 189 499.6 190 498.8 191 497.6 192 495.7 193 493.1 194 489.9 195 486.4 196 483.3 197 481.1 198 480.3 199 481.1 200 483.3 201 486.4 202 489.9 203 493.1 204 495.7 205 497.6 L205.8 500.3 L60.2 500.3Z" fill="#dcdcd8" stroke="none"/>
<path d="M107 499.5 108 498.8 109 497.4 110 495.2 111 491.9 112 487.3 113 481.6 114 475.2 115 468.7 116 463.1 117 459.4 118 458.3 119 460.0 120 464.1 121 469.8 122 476.3 123 482.4 124 487.4 125 490.8 126 492.4 127 492.1 128 490.1 129 486.7 130 482.2 131 477.3 132 472.8 133 469.5 134 468.0 135 468.7 136 471.3 137 475.4 138 480.2 139 484.9 140 488.8 141 491.4 142 492.5 143 491.9 144 489.8 145 486.5 146 482.4 147 478.1 148 474.5 149 472.2 150 471.6 151 473.0 152 475.9 153 480.0 154 484.5 155 488.8 156 492.5 157 495.3 158 497.3 159 498.6 160 499.4M172 499.2 173 498.3 174 496.7 175 494.5 176 491.5 177 487.8 178 483.7 179 479.7 180 476.4 181 474.4 182 474.1 183 475.5 184 478.3 185 482.1 186 486.2 187 490.1 188 493.4 189 495.9 190 497.7 191 498.9 192 499.6" fill="none" stroke="#4aaf30" stroke-width="1.8" stroke-linejoin="round"/>
<path d="M60 485.5 61 484.0 62 481.4 63 477.6 64 473.1 65 468.6 66 464.8 67 462.5 68 462.2 69 464.1 70 467.7 71 472.6 72 478.0 73 483.0 74 487.1 75 489.8 76 490.7 77 489.9 78 487.3 79 483.2 80 478.0 81 472.3 82 467.0 83 462.9 84 460.6 85 460.6 86 462.9 87 467.1 88 472.5 89 478.4 90 484.0 91 488.9 92 492.8 93 495.6 94 497.6 95 498.8 96 499.5M156 499.3 157 498.4 158 496.9 159 494.7 160 491.6 161 487.6 162 482.8 163 477.6 164 472.5 165 468.2 166 465.4 167 464.6 168 465.9 169 469.0 170 473.5 171 478.6 172 483.8 173 488.5 174 492.3 175 495.2 176 497.3 177 498.6 178 499.4" fill="none" stroke="#3444a8" stroke-width="1.8" stroke-linejoin="round"/>
<path d="M92 499.5 93 498.7 94 497.2 95 494.9 96 491.5 97 487.0 98 481.9 99 476.8 100 472.7 101 470.3 102 470.3 103 472.7 104 476.8 105 481.9 106 487.0 107 491.5 108 494.9 109 497.2 110 498.7 111 499.5M189 499.6 190 498.8 191 497.6 192 495.7 193 493.1 194 489.9 195 486.4 196 483.3 197 481.1 198 480.3 199 481.1 200 483.3 201 486.4 202 489.9 203 493.1 204 495.7 205 497.6" fill="none" stroke="#111111" stroke-width="1.8" stroke-linejoin="round"/>
<line x1="60.2" y1="500.50" x2="205.8" y2="500.50" stroke="#555" stroke-width="0.8"/>
<line x1="60.2" y1="501.20" x2="205.8" y2="501.20" stroke="#f03434" stroke-width="1"/>
<path d="M60 548.2 61 548.2 62 548.2 63 548.2 64 548.2 65 548.2 66 548.2 67 548.2 68 548.2 69 548.2 70 548.2 71 548.2 72 548.2 73 548.2 74 548.2 75 548.2 76 548.2 77 548.2 78 548.2 79 548.2 80 548.2 81 548.2 82 548.2 83 548.2 84 548.2 85 548.2 86 548.2 87 548.2 88 548.2 89 548.2 90 548.2 91 548.2 92 548.2 93 548.2 94 548.2 95 548.2 96 548.2 97 548.2 98 548.2 99 548.2 100 548.2 101 548.2 102 548.2 103 548.2 104 548.1 105 548.0 106 547.7 107 547.1 108 546.0 109 544.2 110 541.3 111 537.2 112 531.9 113 525.5 114 518.7 115 512.3 116 507.4 117 504.8 118 505.1 119 508.2 120 513.4 121 519.9 122 526.5 123 532.3 124 536.7 125 539.3 126 540.0 127 538.8 128 536.0 129 532.1 130 527.5 131 523.0 132 519.4 133 517.4 134 517.4 135 519.4 136 523.0 137 527.5 138 532.2 139 536.3 140 539.3 141 540.9 142 541.0 143 539.6 144 536.9 145 533.1 146 528.9 147 524.8 148 521.7 149 520.0 150 520.2 151 522.2 152 525.7 153 529.9 154 534.3 155 538.4 156 541.7 157 544.2 158 545.9 159 546.9 160 547.6 161 547.9 162 548.1 163 548.1 164 548.2 165 548.2 166 548.2 167 548.1 168 548.0 169 547.9 170 547.5 171 546.8 172 545.7 173 544.0 174 541.6 175 538.4 176 534.6 177 530.7 178 527.0 179 524.3 180 523.0 181 523.3 182 525.3 183 528.4 184 532.3 185 536.2 186 539.7 187 542.6 188 544.8 189 546.2 190 547.1 191 547.7 192 547.9 193 548.1 194 548.1 195 548.1 196 548.0 197 547.9 198 547.6 199 547.0 200 546.1 201 544.8 202 543.1 203 540.8 204 538.4 205 535.9 L205.8 548.2 L60.2 548.2Z" fill="#dff0d6" stroke="none"/>
<path d="M60 527.2 61 524.3 62 520.7 63 516.9 64 513.5 65 511.2 66 510.6 67 511.9 68 515.1 69 519.7 70 524.9 71 530.0 72 534.3 73 537.3 74 538.8 75 538.4 76 536.4 77 532.7 78 527.9 79 522.4 80 517.0 81 512.5 82 509.6 83 508.9 84 510.5 85 514.2 86 519.2 87 524.9 88 530.6 89 535.7 90 539.8 91 542.9 92 545.0 93 546.4 94 547.3 95 547.7 96 548.0 97 548.1 98 548.2 99 548.2 100 548.2 101 548.2 102 548.2 103 548.2 104 548.2 105 548.2 106 548.2 107 548.2 108 548.2 109 548.2 110 548.2 111 548.2 112 548.2 113 548.2 114 548.2 115 548.2 116 548.2 117 548.2 118 548.2 119 548.2 120 548.2 121 548.2 122 548.2 123 548.2 124 548.2 125 548.2 126 548.2 127 548.2 128 548.2 129 548.2 130 548.2 131 548.2 132 548.2 133 548.2 134 548.2 135 548.2 136 548.2 137 548.2 138 548.2 139 548.2 140 548.2 141 548.2 142 548.2 143 548.2 144 548.2 145 548.2 146 548.2 147 548.2 148 548.2 149 548.2 150 548.1 151 548.1 152 547.9 153 547.6 154 547.0 155 546.0 156 544.4 157 542.1 158 538.9 159 534.9 160 530.1 161 525.1 162 520.5 163 516.8 164 514.7 165 514.5 166 516.2 167 519.6 168 524.2 169 529.1 170 534.0 171 538.2 172 541.5 173 544.0 174 545.8 175 546.8 176 547.5 177 547.9 178 548.0 179 548.1 180 548.2 181 548.2 182 548.2 183 548.2 184 548.2 185 548.2 186 548.2 187 548.2 188 548.2 189 548.2 190 548.2 191 548.2 192 548.2 193 548.2 194 548.2 195 548.2 196 548.2 197 548.2 198 548.2 199 548.2 200 548.2 201 548.2 202 548.2 203 548.2 204 548.2 205 548.2 L205.8 548.2 L60.2 548.2Z" fill="#e1e4f0" stroke="none"/>
<path d="M60 548.2 61 548.2 62 548.2 63 548.2 64 548.2 65 548.2 66 548.2 67 548.2 68 548.2 69 548.2 70 548.2 71 548.2 72 548.2 73 548.2 74 548.2 75 548.2 76 548.2 77 548.2 78 548.2 79 548.2 80 548.2 81 548.2 82 548.2 83 548.2 84 548.2 85 548.2 86 548.2 87 548.2 88 548.1 89 547.9 90 547.6 91 546.9 92 545.6 93 543.5 94 540.2 95 535.8 96 530.5 97 524.8 98 519.7 99 516.3 100 515.2 101 516.8 102 520.6 103 525.9 104 531.6 105 536.8 106 541.0 107 544.0 108 545.9 109 547.1 110 547.7 111 548.0 112 548.1 113 548.2 114 548.2 115 548.2 116 548.2 117 548.2 118 548.2 119 548.2 120 548.2 121 548.2 122 548.2 123 548.2 124 548.2 125 548.2 126 548.2 127 548.2 128 548.2 129 548.2 130 548.2 131 548.2 132 548.2 133 548.2 134 548.2 135 548.2 136 548.2 137 548.2 138 548.2 139 548.2 140 548.2 141 548.2 142 548.2 143 548.2 144 548.2 145 548.2 146 548.2 147 548.2 148 548.2 149 548.2 150 548.2 151 548.2 152 548.2 153 548.2 154 548.2 155 548.2 156 548.2 157 548.2 158 548.2 159 548.2 160 548.2 161 548.2 162 548.2 163 548.2 164 548.2 165 548.2 166 548.2 167 548.2 168 548.2 169 548.2 170 548.2 171 548.2 172 548.2 173 548.2 174 548.2 175 548.2 176 548.2 177 548.2 178 548.2 179 548.2 180 548.2 181 548.2 182 548.2 183 548.2 184 548.2 185 548.2 186 548.1 187 547.9 188 547.6 189 547.0 190 545.9 191 544.1 192 541.7 193 538.5 194 535.0 195 531.6 196 529.0 197 527.7 198 528.0 199 529.9 200 532.9 201 536.4 202 539.8 203 542.7 204 544.9 205 546.4 L205.8 548.2 L60.2 548.2Z" fill="#dcdcd8" stroke="none"/>
<path d="M107 547.1 108 546.0 109 544.2 110 541.3 111 537.2 112 531.9 113 525.5 114 518.7 115 512.3 116 507.4 117 504.8 118 505.1 119 508.2 120 513.4 121 519.9 122 526.5 123 532.3 124 536.7 125 539.3 126 540.0 127 538.8 128 536.0 129 532.1 130 527.5 131 523.0 132 519.4 133 517.4 134 517.4 135 519.4 136 523.0 137 527.5 138 532.2 139 536.3 140 539.3 141 540.9 142 541.0 143 539.6 144 536.9 145 533.1 146 528.9 147 524.8 148 521.7 149 520.0 150 520.2 151 522.2 152 525.7 153 529.9 154 534.3 155 538.4 156 541.7 157 544.2 158 545.9 159 546.9M170 547.5 171 546.8 172 545.7 173 544.0 174 541.6 175 538.4 176 534.6 177 530.7 178 527.0 179 524.3 180 523.0 181 523.3 182 525.3 183 528.4 184 532.3 185 536.2 186 539.7 187 542.6 188 544.8 189 546.2 190 547.1M199 547.0 200 546.1 201 544.8 202 543.1 203 540.8 204 538.4 205 535.9" fill="none" stroke="#4aaf30" stroke-width="1.8" stroke-linejoin="round"/>
<path d="M60 527.2 61 524.3 62 520.7 63 516.9 64 513.5 65 511.2 66 510.6 67 511.9 68 515.1 69 519.7 70 524.9 71 530.0 72 534.3 73 537.3 74 538.8 75 538.4 76 536.4 77 532.7 78 527.9 79 522.4 80 517.0 81 512.5 82 509.6 83 508.9 84 510.5 85 514.2 86 519.2 87 524.9 88 530.6 89 535.7 90 539.8 91 542.9 92 545.0 93 546.4 94 547.3M154 547.0 155 546.0 156 544.4 157 542.1 158 538.9 159 534.9 160 530.1 161 525.1 162 520.5 163 516.8 164 514.7 165 514.5 166 516.2 167 519.6 168 524.2 169 529.1 170 534.0 171 538.2 172 541.5 173 544.0 174 545.8 175 546.8 176 547.5" fill="none" stroke="#3444a8" stroke-width="1.8" stroke-linejoin="round"/>
<path d="M91 546.9 92 545.6 93 543.5 94 540.2 95 535.8 96 530.5 97 524.8 98 519.7 99 516.3 100 515.2 101 516.8 102 520.6 103 525.9 104 531.6 105 536.8 106 541.0 107 544.0 108 545.9 109 547.1M189 547.0 190 545.9 191 544.1 192 541.7 193 538.5 194 535.0 195 531.6 196 529.0 197 527.7 198 528.0 199 529.9 200 532.9 201 536.4 202 539.8 203 542.7 204 544.9 205 546.4" fill="none" stroke="#111111" stroke-width="1.8" stroke-linejoin="round"/>
<line x1="60.2" y1="548.40" x2="205.8" y2="548.40" stroke="#555" stroke-width="0.8"/>
<line x1="60.2" y1="549.10" x2="205.8" y2="549.10" stroke="#f03434" stroke-width="1"/>
<path d="M60 596.8 61 596.8 62 596.8 63 596.8 64 596.8 65 596.8 66 596.8 67 596.8 68 596.8 69 596.8 70 596.8 71 596.8 72 596.8 73 596.8 74 596.8 75 596.8 76 596.8 77 596.8 78 596.8 79 596.8 80 596.8 81 596.8 82 596.8 83 596.8 84 596.8 85 596.8 86 596.8 87 596.8 88 596.8 89 596.8 90 596.8 91 596.8 92 596.8 93 596.8 94 596.8 95 596.8 96 596.8 97 596.8 98 596.8 99 596.8 100 596.8 101 596.8 102 596.8 103 596.8 104 596.8 105 596.7 106 596.7 107 596.5 108 596.1 109 595.4 110 594.1 111 592.0 112 588.8 113 584.3 114 578.6 115 572.0 116 565.2 117 559.1 118 554.8 119 553.1 120 554.3 121 558.1 122 563.8 123 570.4 124 576.8 125 582.1 126 585.8 127 587.6 128 587.4 129 585.4 130 581.9 131 577.5 132 572.8 133 568.8 134 566.0 135 565.2 136 566.4 137 569.5 138 573.8 139 578.6 140 583.0 141 586.6 142 588.8 143 589.5 144 588.6 145 586.3 146 582.9 147 578.9 148 575.0 149 571.7 150 569.8 151 569.6 152 571.2 153 574.3 154 578.3 155 582.6 156 586.6 157 589.9 158 592.5 159 594.3 160 595.4 161 596.1 162 596.5 163 596.6 164 596.7 165 596.8 166 596.8 167 596.8 168 596.8 169 596.7 170 596.5 171 596.3 172 595.7 173 594.8 174 593.3 175 591.1 176 588.2 177 584.6 178 580.6 179 576.7 180 573.5 181 571.5 182 571.2 183 572.5 184 575.3 185 579.0 186 583.0 187 586.8 188 590.1 189 592.5 190 594.3 191 595.4 192 596.1 193 596.5 194 596.6 195 596.7 196 596.8 197 596.8 198 596.8 199 596.8 200 596.8 201 596.8 202 596.8 203 596.8 204 596.8 205 596.8 L205.8 596.8 L60.2 596.8Z" fill="#dff0d6" stroke="none"/>
<path d="M60 582.3 61 581.1 62 578.6 63 575.1 64 570.9 65 566.7 66 563.1 67 561.0 68 560.7 69 562.5 70 565.9 71 570.6 72 575.6 73 580.4 74 584.2 75 586.7 76 587.5 77 586.6 78 584.0 79 579.8 80 574.7 81 569.0 82 563.8 83 559.6 84 557.4 85 557.4 86 559.7 87 563.8 88 569.2 89 575.1 90 580.7 91 585.5 92 589.3 93 592.2 94 594.1 95 595.3 96 596.0 97 596.4 98 596.6 99 596.7 100 596.8 101 596.8 102 596.8 103 596.8 104 596.8 105 596.8 106 596.8 107 596.8 108 596.8 109 596.8 110 596.8 111 596.8 112 596.8 113 596.8 114 596.8 115 596.8 116 596.8 117 596.8 118 596.8 119 596.8 120 596.8 121 596.8 122 596.8 123 596.8 124 596.8 125 596.8 126 596.8 127 596.8 128 596.8 129 596.8 130 596.8 131 596.8 132 596.8 133 596.8 134 596.8 135 596.8 136 596.8 137 596.8 138 596.8 139 596.8 140 596.8 141 596.8 142 596.8 143 596.8 144 596.8 145 596.8 146 596.8 147 596.8 148 596.8 149 596.8 150 596.8 151 596.8 152 596.7 153 596.7 154 596.5 155 596.2 156 595.6 157 594.6 158 593.0 159 590.7 160 587.5 161 583.5 162 578.9 163 574.1 164 569.6 165 566.2 166 564.3 167 564.3 168 566.2 169 569.6 170 574.1 171 578.9 172 583.5 173 587.5 174 590.7 175 593.0 176 594.6 177 595.6 178 596.2 179 596.5 180 596.7 181 596.7 182 596.8 183 596.8 184 596.8 185 596.8 186 596.8 187 596.8 188 596.8 189 596.8 190 596.8 191 596.8 192 596.8 193 596.8 194 596.8 195 596.8 196 596.8 197 596.8 198 596.8 199 596.8 200 596.8 201 596.8 202 596.8 203 596.8 204 596.8 205 596.8 L205.8 596.8 L60.2 596.8Z" fill="#e1e4f0" stroke="none"/>
<path d="M60 596.8 61 596.8 62 596.8 63 596.8 64 596.8 65 596.8 66 596.8 67 596.8 68 596.8 69 596.8 70 596.8 71 596.8 72 596.8 73 596.8 74 596.8 75 596.8 76 596.8 77 596.8 78 596.8 79 596.8 80 596.8 81 596.8 82 596.8 83 596.8 84 596.8 85 596.8 86 596.8 87 596.8 88 596.8 89 596.7 90 596.7 91 596.5 92 596.1 93 595.2 94 593.8 95 591.5 96 588.2 97 583.8 98 578.8 99 573.8 100 569.7 101 567.4 102 567.4 103 569.7 104 573.8 105 578.8 106 583.8 107 588.2 108 591.5 109 593.8 110 595.2 111 596.1 112 596.5 113 596.7 114 596.7 115 596.8 116 596.8 117 596.8 118 596.8 119 596.8 120 596.8 121 596.8 122 596.8 123 596.8 124 596.8 125 596.8 126 596.8 127 596.8 128 596.8 129 596.8 130 596.8 131 596.8 132 596.8 133 596.8 134 596.8 135 596.8 136 596.8 137 596.8 138 596.8 139 596.8 140 596.8 141 596.8 142 596.8 143 596.8 144 596.8 145 596.8 146 596.8 147 596.8 148 596.8 149 596.8 150 596.8 151 596.8 152 596.8 153 596.8 154 596.8 155 596.8 156 596.8 157 596.8 158 596.8 159 596.8 160 596.8 161 596.8 162 596.8 163 596.8 164 596.8 165 596.8 166 596.8 167 596.8 168 596.8 169 596.8 170 596.8 171 596.8 172 596.8 173 596.8 174 596.8 175 596.8 176 596.8 177 596.8 178 596.8 179 596.8 180 596.8 181 596.8 182 596.8 183 596.8 184 596.8 185 596.8 186 596.7 187 596.7 188 596.5 189 596.1 190 595.4 191 594.2 192 592.4 193 589.9 194 586.8 195 583.5 196 580.5 197 578.4 198 577.6 199 578.4 200 580.5 201 583.5 202 586.8 203 589.9 204 592.4 205 594.2 L205.8 596.8 L60.2 596.8Z" fill="#dcdcd8" stroke="none"/>
<path d="M109 595.4 110 594.1 111 592.0 112 588.8 113 584.3 114 578.6 115 572.0 116 565.2 117 559.1 118 554.8 119 553.1 120 554.3 121 558.1 122 563.8 123 570.4 124 576.8 125 582.1 126 585.8 127 587.6 128 587.4 129 585.4 130 581.9 131 577.5 132 572.8 133 568.8 134 566.0 135 565.2 136 566.4 137 569.5 138 573.8 139 578.6 140 583.0 141 586.6 142 588.8 143 589.5 144 588.6 145 586.3 146 582.9 147 578.9 148 575.0 149 571.7 150 569.8 151 569.6 152 571.2 153 574.3 154 578.3 155 582.6 156 586.6 157 589.9 158 592.5 159 594.3 160 595.4 161 596.1M172 595.7 173 594.8 174 593.3 175 591.1 176 588.2 177 584.6 178 580.6 179 576.7 180 573.5 181 571.5 182 571.2 183 572.5 184 575.3 185 579.0 186 583.0 187 586.8 188 590.1 189 592.5 190 594.3 191 595.4 192 596.1" fill="none" stroke="#4aaf30" stroke-width="1.8" stroke-linejoin="round"/>
<path d="M60 582.3 61 581.1 62 578.6 63 575.1 64 570.9 65 566.7 66 563.1 67 561.0 68 560.7 69 562.5 70 565.9 71 570.6 72 575.6 73 580.4 74 584.2 75 586.7 76 587.5 77 586.6 78 584.0 79 579.8 80 574.7 81 569.0 82 563.8 83 559.6 84 557.4 85 557.4 86 559.7 87 563.8 88 569.2 89 575.1 90 580.7 91 585.5 92 589.3 93 592.2 94 594.1 95 595.3 96 596.0M156 595.6 157 594.6 158 593.0 159 590.7 160 587.5 161 583.5 162 578.9 163 574.1 164 569.6 165 566.2 166 564.3 167 564.3 168 566.2 169 569.6 170 574.1 171 578.9 172 583.5 173 587.5 174 590.7 175 593.0 176 594.6 177 595.6" fill="none" stroke="#3444a8" stroke-width="1.8" stroke-linejoin="round"/>
<path d="M92 596.1 93 595.2 94 593.8 95 591.5 96 588.2 97 583.8 98 578.8 99 573.8 100 569.7 101 567.4 102 567.4 103 569.7 104 573.8 105 578.8 106 583.8 107 588.2 108 591.5 109 593.8 110 595.2 111 596.1M189 596.1 190 595.4 191 594.2 192 592.4 193 589.9 194 586.8 195 583.5 196 580.5 197 578.4 198 577.6 199 578.4 200 580.5 201 583.5 202 586.8 203 589.9 204 592.4 205 594.2" fill="none" stroke="#111111" stroke-width="1.8" stroke-linejoin="round"/>
<line x1="60.2" y1="597.00" x2="205.8" y2="597.00" stroke="#555" stroke-width="0.8"/>
<line x1="60.2" y1="597.70" x2="205.8" y2="597.70" stroke="#f03434" stroke-width="1"/>
<path d="M60 650.4 61 650.4 62 650.4 63 650.4 64 650.4 65 650.4 66 650.4 67 650.4 68 650.4 69 650.4 70 650.4 71 650.4 72 650.4 73 650.4 74 650.4 75 650.4 76 650.4 77 650.4 78 650.4 79 650.4 80 650.4 81 650.4 82 650.4 83 650.4 84 650.4 85 650.4 86 650.4 87 650.4 88 650.4 89 650.4 90 650.4 91 650.4 92 650.4 93 650.4 94 650.4 95 650.4 96 650.4 97 650.4 98 650.4 99 650.4 100 650.4 101 650.4 102 650.4 103 650.4 104 650.3 105 650.2 106 649.9 107 649.4 108 648.4 109 646.6 110 643.9 111 639.9 112 634.6 113 628.1 114 620.9 115 614.1 116 608.6 117 605.3 118 605.0 119 607.7 120 612.8 121 619.4 122 626.4 123 632.7 124 637.6 125 640.8 126 641.9 127 641.1 128 638.7 129 634.8 130 630.2 131 625.6 132 621.7 133 619.3 134 618.9 135 620.5 136 623.9 137 628.4 138 633.2 139 637.5 140 640.9 141 642.9 142 643.4 143 642.4 144 640.0 145 636.4 146 632.2 147 628.0 148 624.4 149 622.3 150 621.9 151 623.4 152 626.5 153 630.6 154 635.1 155 639.3 156 642.9 157 645.7 158 647.6 159 648.9 160 649.6 161 650.0 162 650.2 163 650.3 164 650.4 165 650.4 166 650.4 167 650.3 168 650.3 169 650.1 170 649.7 171 649.0 172 647.9 173 646.2 174 643.7 175 640.5 176 636.6 177 632.4 178 628.5 179 625.5 180 623.9 181 624.1 182 626.0 183 629.2 184 633.2 185 637.4 186 641.2 187 644.3 188 646.6 189 648.2 190 649.2 191 649.8 192 650.1 193 650.3 194 650.3 195 650.4 196 650.4 197 650.4 198 650.4 199 650.4 200 650.4 201 650.4 202 650.4 203 650.4 204 650.4 205 650.4 L205.8 650.4 L60.2 650.4Z" fill="#dff0d6" stroke="none"/>
<path d="M60 631.3 61 628.7 62 625.1 63 621.0 64 617.0 65 613.7 66 612.0 67 612.3 68 614.7 69 618.7 70 623.9 71 629.3 72 634.4 73 638.5 74 641.2 75 642.4 76 641.9 77 639.7 78 636.0 79 631.2 80 625.6 81 620.0 82 615.1 83 611.9 84 610.7 85 611.9 86 615.2 87 620.0 88 625.7 89 631.5 90 636.8 91 641.2 92 644.5 93 646.8 94 648.4 95 649.3 96 649.9 97 650.1 98 650.3 99 650.4 100 650.4 101 650.4 102 650.4 103 650.4 104 650.4 105 650.4 106 650.4 107 650.4 108 650.4 109 650.4 110 650.4 111 650.4 112 650.4 113 650.4 114 650.4 115 650.4 116 650.4 117 650.4 118 650.4 119 650.4 120 650.4 121 650.4 122 650.4 123 650.4 124 650.4 125 650.4 126 650.4 127 650.4 128 650.4 129 650.4 130 650.4 131 650.4 132 650.4 133 650.4 134 650.4 135 650.4 136 650.4 137 650.4 138 650.4 139 650.4 140 650.4 141 650.4 142 650.4 143 650.4 144 650.4 145 650.4 146 650.4 147 650.4 148 650.4 149 650.4 150 650.3 151 650.2 152 650.0 153 649.6 154 648.9 155 647.7 156 645.8 157 643.0 158 639.4 159 634.8 160 629.7 161 624.4 162 619.7 163 616.3 164 614.6 165 615.0 166 617.5 167 621.5 168 626.5 169 631.8 170 636.7 171 641.0 172 644.2 173 646.6 174 648.2 175 649.2 176 649.8 177 650.1 178 650.3 179 650.3 180 650.4 181 650.4 182 650.4 183 650.4 184 650.4 185 650.4 186 650.4 187 650.4 188 650.4 189 650.4 190 650.4 191 650.4 192 650.4 193 650.4 194 650.4 195 650.4 196 650.4 197 650.4 198 650.4 199 650.4 200 650.4 201 650.4 202 650.4 203 650.4 204 650.4 205 650.4 L205.8 650.4 L60.2 650.4Z" fill="#e1e4f0" stroke="none"/>
<path d="M60 650.4 61 650.4 62 650.4 63 650.4 64 650.4 65 650.4 66 650.4 67 650.4 68 650.4 69 650.4 70 650.4 71 650.4 72 650.4 73 650.4 74 650.4 75 650.4 76 650.4 77 650.4 78 650.4 79 650.4 80 650.4 81 650.4 82 650.4 83 650.4 84 650.4 85 650.4 86 650.4 87 650.4 88 650.3 89 650.2 90 650.0 91 649.5 92 648.5 93 646.8 94 644.3 95 640.8 96 636.4 97 631.6 98 627.2 99 623.9 100 622.6 101 623.5 102 626.4 103 630.7 104 635.5 105 640.0 106 643.7 107 646.4 108 648.2 109 649.3 110 649.9 111 650.2 112 650.3 113 650.4 114 650.4 115 650.4 116 650.4 117 650.4 118 650.4 119 650.4 120 650.4 121 650.4 122 650.4 123 650.4 124 650.4 125 650.4 126 650.4 127 650.4 128 650.4 129 650.4 130 650.4 131 650.4 132 650.4 133 650.4 134 650.4 135 650.4 136 650.4 137 650.4 138 650.4 139 650.4 140 650.4 141 650.4 142 650.4 143 650.4 144 650.4 145 650.4 146 650.4 147 650.4 148 650.4 149 650.4 150 650.4 151 650.4 152 650.4 153 650.4 154 650.4 155 650.4 156 650.4 157 650.4 158 650.4 159 650.4 160 650.4 161 650.4 162 650.4 163 650.4 164 650.4 165 650.4 166 650.4 167 650.4 168 650.4 169 650.4 170 650.4 171 650.4 172 650.4 173 650.4 174 650.4 175 650.4 176 650.4 177 650.4 178 650.4 179 650.4 180 650.4 181 650.4 182 650.4 183 650.4 184 650.4 185 650.4 186 650.3 187 650.1 188 649.8 189 649.2 190 648.1 191 646.3 192 643.9 193 640.8 194 637.3 195 633.9 196 631.3 197 630.0 198 630.3 199 632.2 200 635.2 201 638.7 202 642.1 203 645.0 204 647.1 205 648.6 L205.8 650.4 L60.2 650.4Z" fill="#dcdcd8" stroke="none"/>
<path d="M107 649.4 108 648.4 109 646.6 110 643.9 111 639.9 112 634.6 113 628.1 114 620.9 115 614.1 116 608.6 117 605.3 118 605.0 119 607.7 120 612.8 121 619.4 122 626.4 123 632.7 124 637.6 125 640.8 126 641.9 127 641.1 128 638.7 129 634.8 130 630.2 131 625.6 132 621.7 133 619.3 134 618.9 135 620.5 136 623.9 137 628.4 138 633.2 139 637.5 140 640.9 141 642.9 142 643.4 143 642.4 144 640.0 145 636.4 146 632.2 147 628.0 148 624.4 149 622.3 150 621.9 151 623.4 152 626.5 153 630.6 154 635.1 155 639.3 156 642.9 157 645.7 158 647.6 159 648.9 160 649.6M171 649.0 172 647.9 173 646.2 174 643.7 175 640.5 176 636.6 177 632.4 178 628.5 179 625.5 180 623.9 181 624.1 182 626.0 183 629.2 184 633.2 185 637.4 186 641.2 187 644.3 188 646.6 189 648.2 190 649.2" fill="none" stroke="#4aaf30" stroke-width="1.8" stroke-linejoin="round"/>
<path d="M60 631.3 61 628.7 62 625.1 63 621.0 64 617.0 65 613.7 66 612.0 67 612.3 68 614.7 69 618.7 70 623.9 71 629.3 72 634.4 73 638.5 74 641.2 75 642.4 76 641.9 77 639.7 78 636.0 79 631.2 80 625.6 81 620.0 82 615.1 83 611.9 84 610.7 85 611.9 86 615.2 87 620.0 88 625.7 89 631.5 90 636.8 91 641.2 92 644.5 93 646.8 94 648.4 95 649.3M153 649.6 154 648.9 155 647.7 156 645.8 157 643.0 158 639.4 159 634.8 160 629.7 161 624.4 162 619.7 163 616.3 164 614.6 165 615.0 166 617.5 167 621.5 168 626.5 169 631.8 170 636.7 171 641.0 172 644.2 173 646.6 174 648.2 175 649.2" fill="none" stroke="#3444a8" stroke-width="1.8" stroke-linejoin="round"/>
<path d="M91 649.5 92 648.5 93 646.8 94 644.3 95 640.8 96 636.4 97 631.6 98 627.2 99 623.9 100 622.6 101 623.5 102 626.4 103 630.7 104 635.5 105 640.0 106 643.7 107 646.4 108 648.2 109 649.3M189 649.2 190 648.1 191 646.3 192 643.9 193 640.8 194 637.3 195 633.9 196 631.3 197 630.0 198 630.3 199 632.2 200 635.2 201 638.7 202 642.1 203 645.0 204 647.1 205 648.6" fill="none" stroke="#111111" stroke-width="1.8" stroke-linejoin="round"/>
<line x1="60.2" y1="650.60" x2="205.8" y2="650.60" stroke="#555" stroke-width="0.8"/>
<line x1="60.2" y1="651.30" x2="205.8" y2="651.30" stroke="#f03434" stroke-width="1"/>
</g><g clip-path="url(#cr)">
<path d="M254 398.9 255 397.4 256 395.1 257 392.1 258 388.6 259 385.2 260 382.4 261 380.8 262 380.8 263 382.4 264 385.2 265 388.6 266 392.1 267 395.1 268 397.4 269 398.9 270 399.9 271 400.5 272 400.8 273 400.9 274 401.0 275 401.0 276 401.0 277 401.0 278 401.0 279 401.0 280 401.0 281 401.0 282 401.0 283 401.0 284 401.0 285 401.0 286 401.0 287 401.0 288 401.0 289 401.0 290 401.0 291 401.0 292 401.0 293 401.0 294 401.0 295 401.0 296 401.0 297 401.0 298 401.0 299 401.0 300 401.0 301 401.0 302 401.0 303 401.0 304 401.0 305 401.0 306 401.0 307 401.0 308 401.0 309 401.0 310 401.0 311 401.0 312 401.0 313 401.0 314 401.0 315 401.0 316 401.0 317 401.0 318 401.0 319 401.0 320 401.0 321 401.0 322 401.0 323 401.0 324 401.0 325 401.0 326 401.0 327 401.0 328 401.0 329 401.0 330 401.0 331 401.0 332 401.0 333 401.0 334 401.0 335 401.0 336 401.0 337 401.0 338 401.0 339 401.0 340 401.0 341 401.0 342 401.0 343 401.0 344 401.0 345 401.0 346 401.0 347 401.0 348 401.0 349 401.0 350 401.0 351 401.0 352 401.0 353 401.0 354 401.0 355 401.0 356 401.0 357 401.0 358 401.0 359 401.0 360 401.0 361 401.0 362 401.0 363 401.0 364 401.0 365 401.0 366 401.0 367 401.0 368 401.0 369 401.0 370 401.0 371 401.0 372 401.0 373 401.0 374 401.0 375 401.0 376 401.0 377 401.0 378 401.0 379 401.0 380 400.9 381 400.7 382 400.3 383 399.6 384 398.1 385 395.7 386 392.1 387 387.2 388 381.3 389 375.0 390 369.3 391 365.5 392 364.3 393 366.1 394 370.3 395 376.2 396 382.5 397 388.3 398 393.0 399 396.3 400 398.5 L400.5 401.0 L254.0 401.0Z" fill="#dff0d6" stroke="none"/>
<path d="M254 401.0 255 401.0 256 401.0 257 401.0 258 401.0 259 401.0 260 401.0 261 401.0 262 401.0 263 401.0 264 401.0 265 401.0 266 401.0 267 400.9 268 400.7 269 400.2 270 399.3 271 397.5 272 394.7 273 390.6 274 385.4 275 379.9 276 375.1 277 372.2 278 371.9 279 374.4 280 378.9 281 384.3 282 389.6 283 393.9 284 397.0 285 399.0 286 400.1 287 400.6 288 400.9 289 400.9 290 401.0 291 401.0 292 401.0 293 401.0 294 401.0 295 401.0 296 401.0 297 401.0 298 401.0 299 401.0 300 401.0 301 401.0 302 401.0 303 401.0 304 401.0 305 401.0 306 401.0 307 401.0 308 401.0 309 401.0 310 401.0 311 401.0 312 401.0 313 401.0 314 401.0 315 401.0 316 401.0 317 401.0 318 401.0 319 401.0 320 401.0 321 401.0 322 401.0 323 401.0 324 401.0 325 401.0 326 401.0 327 401.0 328 401.0 329 401.0 330 401.0 331 401.0 332 401.0 333 400.9 334 400.7 335 400.4 336 399.6 337 398.4 338 396.4 339 393.6 340 390.2 341 386.9 342 384.1 343 382.8 344 383.1 345 385.1 346 388.2 347 391.6 348 394.8 349 397.3 350 399.0 351 400.0 352 400.5 353 400.8 354 400.9 355 401.0 356 401.0 357 401.0 358 401.0 359 401.0 360 401.0 361 401.0 362 401.0 363 401.0 364 401.0 365 401.0 366 401.0 367 401.0 368 401.0 369 401.0 370 401.0 371 401.0 372 401.0 373 401.0 374 401.0 375 401.0 376 401.0 377 401.0 378 401.0 379 401.0 380 401.0 381 401.0 382 401.0 383 401.0 384 401.0 385 401.0 386 401.0 387 401.0 388 401.0 389 401.0 390 401.0 391 401.0 392 401.0 393 401.0 394 401.0 395 401.0 396 401.0 397 401.0 398 401.0 399 401.0 400 401.0 L400.5 401.0 L254.0 401.0Z" fill="#fcdde0" stroke="none"/>
<path d="M254 401.0 255 401.0 256 401.0 257 401.0 258 401.0 259 401.0 260 401.0 261 401.0 262 401.0 263 401.0 264 401.0 265 401.0 266 401.0 267 401.0 268 401.0 269 401.0 270 401.0 271 401.0 272 401.0 273 401.0 274 401.0 275 401.0 276 401.0 277 401.0 278 401.0 279 401.0 280 401.0 281 400.9 282 400.8 283 400.5 284 399.9 285 398.9 286 397.2 287 394.6 288 391.0 289 386.5 290 381.6 291 376.9 292 373.3 293 371.5 294 372.0 295 374.5 296 378.7 297 383.5 298 388.4 299 392.5 300 395.8 301 398.0 302 399.4 303 400.2 304 400.6 305 400.8 306 400.9 307 401.0 308 401.0 309 401.0 310 401.0 311 401.0 312 401.0 313 401.0 314 401.0 315 401.0 316 401.0 317 401.0 318 401.0 319 401.0 320 401.0 321 401.0 322 401.0 323 401.0 324 401.0 325 401.0 326 401.0 327 401.0 328 401.0 329 401.0 330 401.0 331 401.0 332 401.0 333 401.0 334 401.0 335 401.0 336 401.0 337 401.0 338 401.0 339 401.0 340 401.0 341 401.0 342 401.0 343 401.0 344 401.0 345 401.0 346 401.0 347 401.0 348 401.0 349 401.0 350 401.0 351 401.0 352 401.0 353 401.0 354 401.0 355 401.0 356 401.0 357 401.0 358 401.0 359 401.0 360 401.0 361 401.0 362 401.0 363 401.0 364 401.0 365 401.0 366 401.0 367 401.0 368 401.0 369 401.0 370 401.0 371 401.0 372 401.0 373 401.0 374 401.0 375 401.0 376 401.0 377 401.0 378 401.0 379 401.0 380 401.0 381 401.0 382 401.0 383 401.0 384 401.0 385 401.0 386 401.0 387 401.0 388 401.0 389 401.0 390 401.0 391 401.0 392 401.0 393 401.0 394 401.0 395 401.0 396 401.0 397 401.0 398 401.0 399 401.0 400 401.0 L400.5 401.0 L254.0 401.0Z" fill="#e1e4f0" stroke="none"/>
<path d="M254 401.0 255 401.0 256 401.0 257 401.0 258 401.0 259 401.0 260 401.0 261 401.0 262 401.0 263 401.0 264 401.0 265 401.0 266 401.0 267 401.0 268 401.0 269 401.0 270 401.0 271 401.0 272 401.0 273 401.0 274 401.0 275 401.0 276 401.0 277 401.0 278 401.0 279 401.0 280 401.0 281 401.0 282 401.0 283 401.0 284 401.0 285 401.0 286 401.0 287 401.0 288 401.0 289 401.0 290 401.0 291 401.0 292 401.0 293 401.0 294 401.0 295 401.0 296 401.0 297 401.0 298 401.0 299 400.9 300 400.9 301 400.6 302 400.2 303 399.2 304 397.6 305 395.1 306 391.6 307 387.3 308 383.0 309 379.5 310 377.6 311 377.8 312 380.1 313 383.9 314 388.2 315 392.3 316 395.6 317 397.9 318 399.1 319 399.5 320 399.0 321 397.6 322 395.1 323 391.6 324 387.3 325 382.8 326 379.1 327 376.9 328 376.9 329 379.1 330 382.8 331 387.3 332 391.6 333 395.2 334 397.7 335 399.3 336 400.2 337 400.7 338 400.9 339 401.0 340 401.0 341 401.0 342 401.0 343 401.0 344 401.0 345 401.0 346 401.0 347 401.0 348 400.9 349 400.6 350 400.0 351 398.8 352 396.6 353 392.9 354 387.3 355 380.1 356 371.9 357 364.1 358 358.5 359 356.4 360 358.5 361 364.1 362 371.9 363 380.1 364 387.3 365 392.7 366 396.2 367 397.8 368 397.9 369 396.5 370 393.8 371 389.8 372 385.0 373 380.2 374 376.4 375 374.4 376 374.9 377 377.7 378 382.1 379 387.0 380 391.6 381 395.3 382 397.8 383 399.4 384 400.3 385 400.7 386 400.9 387 401.0 388 401.0 389 401.0 390 401.0 391 401.0 392 401.0 393 401.0 394 401.0 395 401.0 396 401.0 397 401.0 398 401.0 399 401.0 400 401.0 L400.5 401.0 L254.0 401.0Z" fill="#dcdcd8" stroke="none"/>
<path d="M254 398.9 255 397.4 256 395.1 257 392.1 258 388.6 259 385.2 260 382.4 261 380.8 262 380.8 263 382.4 264 385.2 265 388.6 266 392.1 267 395.1 268 397.4 269 398.9 270 399.9M383 399.6 384 398.1 385 395.7 386 392.1 387 387.2 388 381.3 389 375.0 390 369.3 391 365.5 392 364.3 393 366.1 394 370.3 395 376.2 396 382.5 397 388.3 398 393.0 399 396.3 400 398.5" fill="none" stroke="#4aaf30" stroke-width="1.8" stroke-linejoin="round"/>
<path d="M269 400.2 270 399.3 271 397.5 272 394.7 273 390.6 274 385.4 275 379.9 276 375.1 277 372.2 278 371.9 279 374.4 280 378.9 281 384.3 282 389.6 283 393.9 284 397.0 285 399.0 286 400.1M336 399.6 337 398.4 338 396.4 339 393.6 340 390.2 341 386.9 342 384.1 343 382.8 344 383.1 345 385.1 346 388.2 347 391.6 348 394.8 349 397.3 350 399.0 351 400.0" fill="none" stroke="#fa2424" stroke-width="1.8" stroke-linejoin="round"/>
<path d="M284 399.9 285 398.9 286 397.2 287 394.6 288 391.0 289 386.5 290 381.6 291 376.9 292 373.3 293 371.5 294 372.0 295 374.5 296 378.7 297 383.5 298 388.4 299 392.5 300 395.8 301 398.0 302 399.4 303 400.2" fill="none" stroke="#3444a8" stroke-width="1.8" stroke-linejoin="round"/>
<path d="M302 400.2 303 399.2 304 397.6 305 395.1 306 391.6 307 387.3 308 383.0 309 379.5 310 377.6 311 377.8 312 380.1 313 383.9 314 388.2 315 392.3 316 395.6 317 397.9 318 399.1 319 399.5 320 399.0 321 397.6 322 395.1 323 391.6 324 387.3 325 382.8 326 379.1 327 376.9 328 376.9 329 379.1 330 382.8 331 387.3 332 391.6 333 395.2 334 397.7 335 399.3 336 400.2M350 400.0 351 398.8 352 396.6 353 392.9 354 387.3 355 380.1 356 371.9 357 364.1 358 358.5 359 356.4 360 358.5 361 364.1 362 371.9 363 380.1 364 387.3 365 392.7 366 396.2 367 397.8 368 397.9 369 396.5 370 393.8 371 389.8 372 385.0 373 380.2 374 376.4 375 374.4 376 374.9 377 377.7 378 382.1 379 387.0 380 391.6 381 395.3 382 397.8 383 399.4 384 400.3" fill="none" stroke="#111111" stroke-width="1.8" stroke-linejoin="round"/>
<line x1="254" y1="401.20" x2="400.5" y2="401.20" stroke="#555" stroke-width="0.8"/>
<line x1="254" y1="401.90" x2="400.5" y2="401.90" stroke="#f03434" stroke-width="1"/>
<path d="M254 448.3 255 446.8 256 444.6 257 441.7 258 438.4 259 435.2 260 432.7 261 431.3 262 431.5 263 433.1 264 435.8 265 439.1 266 442.3 267 445.1 268 447.2 269 448.6 270 449.5 271 450.0 272 450.2 273 450.3 274 450.4 275 450.4 276 450.4 277 450.4 278 450.4 279 450.4 280 450.4 281 450.4 282 450.4 283 450.4 284 450.4 285 450.4 286 450.4 287 450.4 288 450.4 289 450.4 290 450.4 291 450.4 292 450.4 293 450.4 294 450.4 295 450.4 296 450.4 297 450.4 298 450.4 299 450.4 300 450.4 301 450.4 302 450.4 303 450.4 304 450.4 305 450.4 306 450.4 307 450.4 308 450.4 309 450.4 310 450.4 311 450.4 312 450.4 313 450.4 314 450.4 315 450.4 316 450.4 317 450.4 318 450.4 319 450.4 320 450.4 321 450.4 322 450.4 323 450.4 324 450.4 325 450.4 326 450.4 327 450.4 328 450.4 329 450.4 330 450.4 331 450.4 332 450.4 333 450.4 334 450.4 335 450.4 336 450.4 337 450.4 338 450.4 339 450.4 340 450.4 341 450.4 342 450.4 343 450.4 344 450.4 345 450.4 346 450.4 347 450.4 348 450.4 349 450.4 350 450.4 351 450.4 352 450.4 353 450.4 354 450.4 355 450.4 356 450.4 357 450.4 358 450.4 359 450.4 360 450.4 361 450.4 362 450.4 363 450.4 364 450.4 365 450.4 366 450.4 367 450.4 368 450.4 369 450.4 370 450.4 371 450.4 372 450.4 373 450.4 374 450.4 375 450.4 376 450.4 377 450.4 378 450.4 379 450.4 380 450.4 381 450.3 382 450.1 383 449.7 384 448.9 385 447.4 386 445.0 387 441.4 388 436.6 389 431.0 390 425.2 391 420.3 392 417.2 393 416.6 394 418.8 395 423.1 396 428.7 397 434.5 398 439.6 399 443.7 400 446.5 L400.5 450.4 L254.0 450.4Z" fill="#dff0d6" stroke="none"/>
<path d="M254 450.4 255 450.4 256 450.4 257 450.4 258 450.4 259 450.4 260 450.4 261 450.4 262 450.4 263 450.4 264 450.4 265 450.4 266 450.3 267 450.2 268 450.0 269 449.4 270 448.2 271 446.2 272 443.1 273 438.8 274 433.8 275 428.8 276 424.9 277 423.1 278 423.8 279 427.0 280 431.7 281 436.9 282 441.5 283 445.1 284 447.5 285 449.0 286 449.8 287 450.1 288 450.3 289 450.4 290 450.4 291 450.4 292 450.4 293 450.4 294 450.4 295 450.4 296 450.4 297 450.4 298 450.4 299 450.4 300 450.4 301 450.4 302 450.4 303 450.4 304 450.4 305 450.4 306 450.4 307 450.4 308 450.4 309 450.4 310 450.4 311 450.4 312 450.4 313 450.4 314 450.4 315 450.4 316 450.4 317 450.4 318 450.4 319 450.4 320 450.4 321 450.4 322 450.4 323 450.4 324 450.4 325 450.4 326 450.4 327 450.4 328 450.4 329 450.4 330 450.4 331 450.4 332 450.4 333 450.3 334 450.1 335 449.7 336 449.0 337 447.7 338 445.7 339 443.0 340 439.9 341 436.9 342 434.6 343 433.6 344 434.3 345 436.3 346 439.3 347 442.4 348 445.2 349 447.3 350 448.8 351 449.6 352 450.0 353 450.3 354 450.3 355 450.4 356 450.4 357 450.4 358 450.4 359 450.4 360 450.4 361 450.4 362 450.4 363 450.4 364 450.4 365 450.4 366 450.4 367 450.4 368 450.4 369 450.4 370 450.4 371 450.4 372 450.4 373 450.4 374 450.4 375 450.4 376 450.4 377 450.4 378 450.4 379 450.4 380 450.4 381 450.4 382 450.4 383 450.4 384 450.4 385 450.4 386 450.4 387 450.4 388 450.4 389 450.4 390 450.4 391 450.4 392 450.4 393 450.4 394 450.4 395 450.4 396 450.4 397 450.4 398 450.4 399 450.4 400 450.4 L400.5 450.4 L254.0 450.4Z" fill="#fcdde0" stroke="none"/>
<path d="M254 450.4 255 450.4 256 450.4 257 450.4 258 450.4 259 450.4 260 450.4 261 450.4 262 450.4 263 450.4 264 450.4 265 450.4 266 450.4 267 450.4 268 450.4 269 450.4 270 450.4 271 450.4 272 450.4 273 450.4 274 450.4 275 450.4 276 450.4 277 450.4 278 450.4 279 450.4 280 450.4 281 450.3 282 450.2 283 450.0 284 449.5 285 448.6 286 447.1 287 444.8 288 441.5 289 437.4 290 432.9 291 428.5 292 425.0 293 423.2 294 423.4 295 425.6 296 429.3 297 433.8 298 438.3 299 442.2 300 445.3 301 447.4 302 448.8 303 449.6 304 450.0 305 450.2 306 450.3 307 450.4 308 450.4 309 450.4 310 450.4 311 450.4 312 450.4 313 450.4 314 450.4 315 450.4 316 450.4 317 450.4 318 450.4 319 450.4 320 450.4 321 450.4 322 450.4 323 450.4 324 450.4 325 450.4 326 450.4 327 450.4 328 450.4 329 450.4 330 450.4 331 450.4 332 450.4 333 450.4 334 450.4 335 450.4 336 450.4 337 450.4 338 450.4 339 450.4 340 450.4 341 450.4 342 450.4 343 450.4 344 450.4 345 450.4 346 450.4 347 450.4 348 450.4 349 450.4 350 450.4 351 450.4 352 450.4 353 450.4 354 450.4 355 450.4 356 450.4 357 450.4 358 450.4 359 450.4 360 450.4 361 450.4 362 450.4 363 450.4 364 450.4 365 450.4 366 450.4 367 450.4 368 450.4 369 450.4 370 450.4 371 450.4 372 450.4 373 450.4 374 450.4 375 450.4 376 450.4 377 450.4 378 450.4 379 450.4 380 450.4 381 450.4 382 450.4 383 450.4 384 450.4 385 450.4 386 450.4 387 450.4 388 450.4 389 450.4 390 450.4 391 450.4 392 450.4 393 450.4 394 450.4 395 450.4 396 450.4 397 450.4 398 450.4 399 450.4 400 450.4 L400.5 450.4 L254.0 450.4Z" fill="#e1e4f0" stroke="none"/>
<path d="M254 450.4 255 450.4 256 450.4 257 450.4 258 450.4 259 450.4 260 450.4 261 450.4 262 450.4 263 450.4 264 450.4 265 450.4 266 450.4 267 450.4 268 450.4 269 450.4 270 450.4 271 450.4 272 450.4 273 450.4 274 450.4 275 450.4 276 450.4 277 450.4 278 450.4 279 450.4 280 450.4 281 450.4 282 450.4 283 450.4 284 450.4 285 450.4 286 450.4 287 450.4 288 450.4 289 450.4 290 450.4 291 450.4 292 450.4 293 450.4 294 450.4 295 450.4 296 450.4 297 450.4 298 450.4 299 450.3 300 450.2 301 450.0 302 449.4 303 448.4 304 446.6 305 444.0 306 440.6 307 436.8 308 433.2 309 430.6 310 429.6 311 430.6 312 433.2 313 436.8 314 440.6 315 444.0 316 446.6 317 448.2 318 449.0 319 449.0 320 448.3 321 446.7 322 444.1 323 440.5 324 436.4 325 432.3 326 429.2 327 427.7 328 428.4 329 430.9 330 434.7 331 438.9 332 442.8 333 445.8 334 447.9 335 449.1 336 449.8 337 450.2 338 450.3 339 450.4 340 450.4 341 450.4 342 450.4 343 450.4 344 450.4 345 450.4 346 450.4 347 450.3 348 450.2 349 449.9 350 449.3 351 447.9 352 445.5 353 441.5 354 435.7 355 428.3 356 420.2 357 412.9 358 408.0 359 406.8 360 409.6 361 415.6 362 423.5 363 431.4 364 438.2 365 443.3 366 446.5 367 448.2 368 448.6 369 448.0 370 446.4 371 443.6 372 439.7 373 435.0 374 430.4 375 426.7 376 424.8 377 425.3 378 428.0 379 432.2 380 437.0 381 441.4 382 444.9 383 447.3 384 448.8 385 449.7 386 450.1 387 450.3 388 450.4 389 450.4 390 450.4 391 450.4 392 450.4 393 450.4 394 450.4 395 450.4 396 450.4 397 450.4 398 450.4 399 450.4 400 450.4 L400.5 450.4 L254.0 450.4Z" fill="#dcdcd8" stroke="none"/>
<path d="M254 448.3 255 446.8 256 444.6 257 441.7 258 438.4 259 435.2 260 432.7 261 431.3 262 431.5 263 433.1 264 435.8 265 439.1 266 442.3 267 445.1 268 447.2 269 448.6 270 449.5M383 449.7 384 448.9 385 447.4 386 445.0 387 441.4 388 436.6 389 431.0 390 425.2 391 420.3 392 417.2 393 416.6 394 418.8 395 423.1 396 428.7 397 434.5 398 439.6 399 443.7 400 446.5" fill="none" stroke="#4aaf30" stroke-width="1.8" stroke-linejoin="round"/>
<path d="M269 449.4 270 448.2 271 446.2 272 443.1 273 438.8 274 433.8 275 428.8 276 424.9 277 423.1 278 423.8 279 427.0 280 431.7 281 436.9 282 441.5 283 445.1 284 447.5 285 449.0M336 449.0 337 447.7 338 445.7 339 443.0 340 439.9 341 436.9 342 434.6 343 433.6 344 434.3 345 436.3 346 439.3 347 442.4 348 445.2 349 447.3 350 448.8 351 449.6" fill="none" stroke="#fa2424" stroke-width="1.8" stroke-linejoin="round"/>
<path d="M284 449.5 285 448.6 286 447.1 287 444.8 288 441.5 289 437.4 290 432.9 291 428.5 292 425.0 293 423.2 294 423.4 295 425.6 296 429.3 297 433.8 298 438.3 299 442.2 300 445.3 301 447.4 302 448.8 303 449.6" fill="none" stroke="#3444a8" stroke-width="1.8" stroke-linejoin="round"/>
<path d="M302 449.4 303 448.4 304 446.6 305 444.0 306 440.6 307 436.8 308 433.2 309 430.6 310 429.6 311 430.6 312 433.2 313 436.8 314 440.6 315 444.0 316 446.6 317 448.2 318 449.0 319 449.0 320 448.3 321 446.7 322 444.1 323 440.5 324 436.4 325 432.3 326 429.2 327 427.7 328 428.4 329 430.9 330 434.7 331 438.9 332 442.8 333 445.8 334 447.9 335 449.1M350 449.3 351 447.9 352 445.5 353 441.5 354 435.7 355 428.3 356 420.2 357 412.9 358 408.0 359 406.8 360 409.6 361 415.6 362 423.5 363 431.4 364 438.2 365 443.3 366 446.5 367 448.2 368 448.6 369 448.0 370 446.4 371 443.6 372 439.7 373 435.0 374 430.4 375 426.7 376 424.8 377 425.3 378 428.0 379 432.2 380 437.0 381 441.4 382 444.9 383 447.3 384 448.8 385 449.7" fill="none" stroke="#111111" stroke-width="1.8" stroke-linejoin="round"/>
<line x1="254" y1="450.60" x2="400.5" y2="450.60" stroke="#555" stroke-width="0.8"/>
<line x1="254" y1="451.30" x2="400.5" y2="451.30" stroke="#f03434" stroke-width="1"/>
<path d="M254 497.5 255 496.0 256 493.9 257 491.2 258 488.2 259 485.2 260 482.8 261 481.5 262 481.7 263 483.2 264 485.7 265 488.8 266 491.8 267 494.4 268 496.4 269 497.7 270 498.5 271 499.0 272 499.2 273 499.3 274 499.4 275 499.4 276 499.4 277 499.4 278 499.4 279 499.4 280 499.4 281 499.4 282 499.4 283 499.4 284 499.4 285 499.4 286 499.4 287 499.4 288 499.4 289 499.4 290 499.4 291 499.4 292 499.4 293 499.4 294 499.4 295 499.4 296 499.4 297 499.4 298 499.4 299 499.3 300 499.3 301 499.1 302 498.9 303 498.5 304 498.0 305 497.3 306 496.6 307 496.0 308 495.6 309 495.4 310 495.6 311 496.0 312 496.6 313 497.3 314 498.0 315 498.5 316 498.9 317 499.1 318 499.3 319 499.3 320 499.4 321 499.4 322 499.4 323 499.4 324 499.4 325 499.4 326 499.4 327 499.4 328 499.4 329 499.4 330 499.4 331 499.4 332 499.4 333 499.4 334 499.4 335 499.4 336 499.4 337 499.4 338 499.4 339 499.4 340 499.4 341 499.4 342 499.4 343 499.4 344 499.4 345 499.4 346 499.4 347 499.4 348 499.4 349 499.4 350 499.4 351 499.4 352 499.4 353 499.4 354 499.4 355 499.4 356 499.4 357 499.4 358 499.4 359 499.4 360 499.4 361 499.4 362 499.4 363 499.4 364 499.4 365 499.4 366 499.4 367 499.4 368 499.4 369 499.4 370 499.4 371 499.4 372 499.4 373 499.4 374 499.4 375 499.4 376 499.4 377 499.4 378 499.4 379 499.4 380 499.4 381 499.3 382 499.1 383 498.7 384 497.9 385 496.4 386 494.0 387 490.4 388 485.7 389 480.1 390 474.3 391 469.4 392 466.3 393 465.7 394 467.9 395 472.2 396 477.7 397 483.5 398 488.7 399 492.7 400 495.6 L400.5 499.4 L254.0 499.4Z" fill="#dff0d6" stroke="none"/>
<path d="M254 499.4 255 499.4 256 499.4 257 499.4 258 499.4 259 499.4 260 499.4 261 499.4 262 499.4 263 499.4 264 499.4 265 499.4 266 499.3 267 499.2 268 499.0 269 498.4 270 497.2 271 495.2 272 492.1 273 487.9 274 482.8 275 477.8 276 474.0 277 472.2 278 472.9 279 476.1 280 480.8 281 485.9 282 490.5 283 494.1 284 496.5 285 498.0 286 498.8 287 499.1 288 499.3 289 499.4 290 499.4 291 499.4 292 499.4 293 499.4 294 499.4 295 499.4 296 499.4 297 499.4 298 499.4 299 499.4 300 499.4 301 499.4 302 499.4 303 499.4 304 499.4 305 499.4 306 499.4 307 499.4 308 499.4 309 499.4 310 499.4 311 499.4 312 499.4 313 499.4 314 499.4 315 499.4 316 499.4 317 499.4 318 499.4 319 499.4 320 499.4 321 499.4 322 499.4 323 499.4 324 499.4 325 499.4 326 499.4 327 499.4 328 499.4 329 499.4 330 499.4 331 499.4 332 499.4 333 499.3 334 499.1 335 498.7 336 498.0 337 496.7 338 494.8 339 492.2 340 489.1 341 486.2 342 483.9 343 483.0 344 483.6 345 485.7 346 488.5 347 491.6 348 494.3 349 496.4 350 497.8 351 498.6 352 499.1 353 499.3 354 499.4 355 499.4 356 499.4 357 499.4 358 499.4 359 499.4 360 499.4 361 499.4 362 499.4 363 499.4 364 499.4 365 499.4 366 499.4 367 499.4 368 499.4 369 499.4 370 499.4 371 499.4 372 499.4 373 499.4 374 499.4 375 499.4 376 499.4 377 499.4 378 499.4 379 499.4 380 499.4 381 499.4 382 499.4 383 499.4 384 499.4 385 499.4 386 499.4 387 499.4 388 499.4 389 499.4 390 499.4 391 499.4 392 499.4 393 499.4 394 499.4 395 499.4 396 499.4 397 499.4 398 499.4 399 499.4 400 499.4 L400.5 499.4 L254.0 499.4Z" fill="#fcdde0" stroke="none"/>
<path d="M254 499.4 255 499.4 256 499.4 257 499.4 258 499.4 259 499.4 260 499.4 261 499.4 262 499.4 263 499.4 264 499.4 265 499.4 266 499.4 267 499.4 268 499.4 269 499.4 270 499.4 271 499.4 272 499.4 273 499.4 274 499.4 275 499.4 276 499.4 277 499.4 278 499.4 279 499.4 280 499.4 281 499.3 282 499.2 283 499.0 284 498.5 285 497.6 286 496.1 287 493.8 288 490.5 289 486.5 290 481.9 291 477.5 292 474.1 293 472.3 294 472.5 295 474.7 296 478.4 297 482.8 298 487.3 299 491.3 300 494.3 301 496.5 302 497.8 303 498.6 304 499.0 305 499.2 306 499.3 307 499.4 308 499.4 309 499.4 310 499.4 311 499.4 312 499.4 313 499.4 314 499.4 315 499.4 316 499.4 317 499.4 318 499.4 319 499.4 320 499.4 321 499.4 322 499.4 323 499.4 324 499.4 325 499.4 326 499.4 327 499.4 328 499.4 329 499.4 330 499.4 331 499.4 332 499.4 333 499.4 334 499.4 335 499.4 336 499.4 337 499.4 338 499.4 339 499.4 340 499.4 341 499.4 342 499.4 343 499.4 344 499.4 345 499.4 346 499.4 347 499.4 348 499.4 349 499.4 350 499.4 351 499.4 352 499.4 353 499.4 354 499.4 355 499.4 356 499.4 357 499.4 358 499.4 359 499.4 360 499.4 361 499.4 362 499.4 363 499.4 364 499.4 365 499.4 366 499.4 367 499.4 368 499.4 369 499.4 370 499.4 371 499.4 372 499.4 373 499.4 374 499.4 375 499.4 376 499.4 377 499.4 378 499.4 379 499.4 380 499.4 381 499.4 382 499.4 383 499.4 384 499.4 385 499.4 386 499.4 387 499.4 388 499.4 389 499.4 390 499.4 391 499.4 392 499.4 393 499.4 394 499.4 395 499.4 396 499.4 397 499.4 398 499.4 399 499.4 400 499.4 L400.5 499.4 L254.0 499.4Z" fill="#e1e4f0" stroke="none"/>
<path d="M254 499.4 255 499.4 256 499.4 257 499.4 258 499.4 259 499.4 260 499.4 261 499.4 262 499.4 263 499.4 264 499.4 265 499.4 266 499.4 267 499.4 268 499.4 269 499.4 270 499.4 271 499.4 272 499.4 273 499.4 274 499.4 275 499.4 276 499.4 277 499.4 278 499.4 279 499.4 280 499.4 281 499.4 282 499.4 283 499.4 284 499.4 285 499.4 286 499.4 287 499.4 288 499.4 289 499.4 290 499.4 291 499.4 292 499.4 293 499.4 294 499.4 295 499.4 296 499.4 297 499.4 298 499.4 299 499.4 300 499.3 301 499.1 302 498.7 303 498.0 304 496.7 305 494.7 306 491.9 307 488.6 308 485.2 309 482.4 310 480.8 311 481.0 312 482.8 313 485.8 314 489.3 315 492.5 316 495.1 317 496.9 318 497.8 319 497.9 320 497.3 321 495.8 322 493.4 323 490.1 324 486.2 325 482.3 326 479.3 327 477.9 328 478.5 329 481.0 330 484.6 331 488.5 332 492.2 333 495.0 334 497.0 335 498.2 336 498.8 337 499.2 338 499.3 339 499.4 340 499.4 341 499.4 342 499.4 343 499.4 344 499.4 345 499.4 346 499.4 347 499.3 348 499.2 349 498.9 350 498.3 351 496.9 352 494.5 353 490.5 354 484.7 355 477.3 356 469.2 357 461.9 358 457.0 359 455.8 360 458.6 361 464.6 362 472.5 363 480.4 364 487.2 365 492.3 366 495.5 367 497.1 368 497.6 369 496.9 370 495.2 371 492.3 372 488.2 373 483.4 374 478.5 375 474.7 376 472.7 377 473.2 378 476.0 379 480.4 380 485.4 381 490.0 382 493.6 383 496.2 384 497.8 385 498.7 386 499.1 387 499.3 388 499.4 389 499.4 390 499.4 391 499.4 392 499.4 393 499.4 394 499.4 395 499.4 396 499.4 397 499.4 398 499.4 399 499.4 400 499.4 L400.5 499.4 L254.0 499.4Z" fill="#dcdcd8" stroke="none"/>
<path d="M254 497.5 255 496.0 256 493.9 257 491.2 258 488.2 259 485.2 260 482.8 261 481.5 262 481.7 263 483.2 264 485.7 265 488.8 266 491.8 267 494.4 268 496.4 269 497.7 270 498.5M303 498.5 304 498.0 305 497.3 306 496.6 307 496.0 308 495.6 309 495.4 310 495.6 311 496.0 312 496.6 313 497.3 314 498.0 315 498.5M383 498.7 384 497.9 385 496.4 386 494.0 387 490.4 388 485.7 389 480.1 390 474.3 391 469.4 392 466.3 393 465.7 394 467.9 395 472.2 396 477.7 397 483.5 398 488.7 399 492.7 400 495.6" fill="none" stroke="#4aaf30" stroke-width="1.8" stroke-linejoin="round"/>
<path d="M269 498.4 270 497.2 271 495.2 272 492.1 273 487.9 274 482.8 275 477.8 276 474.0 277 472.2 278 472.9 279 476.1 280 480.8 281 485.9 282 490.5 283 494.1 284 496.5 285 498.0M336 498.0 337 496.7 338 494.8 339 492.2 340 489.1 341 486.2 342 483.9 343 483.0 344 483.6 345 485.7 346 488.5 347 491.6 348 494.3 349 496.4 350 497.8 351 498.6" fill="none" stroke="#fa2424" stroke-width="1.8" stroke-linejoin="round"/>
<path d="M284 498.5 285 497.6 286 496.1 287 493.8 288 490.5 289 486.5 290 481.9 291 477.5 292 474.1 293 472.3 294 472.5 295 474.7 296 478.4 297 482.8 298 487.3 299 491.3 300 494.3 301 496.5 302 497.8 303 498.6" fill="none" stroke="#3444a8" stroke-width="1.8" stroke-linejoin="round"/>
<path d="M303 498.0 304 496.7 305 494.7 306 491.9 307 488.6 308 485.2 309 482.4 310 480.8 311 481.0 312 482.8 313 485.8 314 489.3 315 492.5 316 495.1 317 496.9 318 497.8 319 497.9 320 497.3 321 495.8 322 493.4 323 490.1 324 486.2 325 482.3 326 479.3 327 477.9 328 478.5 329 481.0 330 484.6 331 488.5 332 492.2 333 495.0 334 497.0 335 498.2M350 498.3 351 496.9 352 494.5 353 490.5 354 484.7 355 477.3 356 469.2 357 461.9 358 457.0 359 455.8 360 458.6 361 464.6 362 472.5 363 480.4 364 487.2 365 492.3 366 495.5 367 497.1 368 497.6 369 496.9 370 495.2 371 492.3 372 488.2 373 483.4 374 478.5 375 474.7 376 472.7 377 473.2 378 476.0 379 480.4 380 485.4 381 490.0 382 493.6 383 496.2 384 497.8 385 498.7" fill="none" stroke="#111111" stroke-width="1.8" stroke-linejoin="round"/>
<line x1="254" y1="499.60" x2="400.5" y2="499.60" stroke="#555" stroke-width="0.8"/>
<line x1="254" y1="500.30" x2="400.5" y2="500.30" stroke="#f03434" stroke-width="1"/>
<path d="M254 545.5 255 543.6 256 540.9 257 537.7 258 534.3 259 531.2 260 529.1 261 528.5 262 529.5 263 531.8 264 535.0 265 538.4 266 541.5 267 544.0 268 545.9 269 547.0 270 547.7 271 548.1 272 548.3 273 548.3 274 548.4 275 548.4 276 548.4 277 548.4 278 548.4 279 548.4 280 548.4 281 548.4 282 548.4 283 548.4 284 548.4 285 548.4 286 548.4 287 548.4 288 548.4 289 548.4 290 548.4 291 548.4 292 548.4 293 548.4 294 548.4 295 548.4 296 548.4 297 548.4 298 548.4 299 548.3 300 548.2 301 548.0 302 547.7 303 547.2 304 546.5 305 545.7 306 544.8 307 544.0 308 543.4 309 543.2 310 543.4 311 544.0 312 544.8 313 545.7 314 546.5 315 547.2 316 547.7 317 548.0 318 548.2 319 548.3 320 548.4 321 548.4 322 548.4 323 548.4 324 548.4 325 548.4 326 548.4 327 548.4 328 548.4 329 548.4 330 548.4 331 548.4 332 548.4 333 548.4 334 548.4 335 548.4 336 548.4 337 548.4 338 548.4 339 548.4 340 548.4 341 548.4 342 548.4 343 548.4 344 548.4 345 548.4 346 548.4 347 548.4 348 548.4 349 548.4 350 548.4 351 548.4 352 548.4 353 548.4 354 548.4 355 548.4 356 548.4 357 548.4 358 548.4 359 548.4 360 548.4 361 548.4 362 548.4 363 548.4 364 548.4 365 548.4 366 548.4 367 548.4 368 548.4 369 548.4 370 548.4 371 548.4 372 548.4 373 548.4 374 548.4 375 548.4 376 548.4 377 548.4 378 548.4 379 548.4 380 548.4 381 548.3 382 548.1 383 547.6 384 546.8 385 545.2 386 542.7 387 539.0 388 534.0 389 528.1 390 522.0 391 516.9 392 513.6 393 513.0 394 515.3 395 519.8 396 525.6 397 531.7 398 537.1 399 541.4 400 544.4 L400.5 548.4 L254.0 548.4Z" fill="#dff0d6" stroke="none"/>
<path d="M254 548.4 255 548.4 256 548.4 257 548.4 258 548.4 259 548.4 260 548.4 261 548.4 262 548.4 263 548.4 264 548.4 265 548.4 266 548.3 267 548.2 268 547.8 269 547.1 270 545.7 271 543.3 272 539.6 273 534.8 274 529.3 275 524.0 276 520.1 277 518.7 278 520.1 279 524.0 280 529.3 281 534.8 282 539.6 283 543.3 284 545.7 285 547.1 286 547.8 287 548.2 288 548.3 289 548.4 290 548.4 291 548.4 292 548.4 293 548.4 294 548.4 295 548.4 296 548.4 297 548.4 298 548.4 299 548.4 300 548.4 301 548.4 302 548.4 303 548.4 304 548.4 305 548.4 306 548.4 307 548.4 308 548.4 309 548.4 310 548.4 311 548.4 312 548.4 313 548.4 314 548.4 315 548.4 316 548.4 317 548.4 318 548.4 319 548.4 320 548.4 321 548.4 322 548.4 323 548.4 324 548.4 325 548.4 326 548.4 327 548.4 328 548.4 329 548.4 330 548.4 331 548.4 332 548.3 333 548.2 334 548.0 335 547.4 336 546.5 337 544.9 338 542.5 339 539.5 340 536.3 341 533.4 342 531.5 343 531.2 344 532.5 345 535.0 346 538.2 347 541.4 348 544.0 349 545.9 350 547.1 351 547.8 352 548.1 353 548.3 354 548.4 355 548.4 356 548.4 357 548.4 358 548.4 359 548.4 360 548.4 361 548.4 362 548.4 363 548.4 364 548.4 365 548.4 366 548.4 367 548.4 368 548.4 369 548.4 370 548.4 371 548.4 372 548.4 373 548.4 374 548.4 375 548.4 376 548.4 377 548.4 378 548.4 379 548.4 380 548.4 381 548.4 382 548.4 383 548.4 384 548.4 385 548.4 386 548.4 387 548.4 388 548.4 389 548.4 390 548.4 391 548.4 392 548.4 393 548.4 394 548.4 395 548.4 396 548.4 397 548.4 398 548.4 399 548.4 400 548.4 L400.5 548.4 L254.0 548.4Z" fill="#fcdde0" stroke="none"/>
<path d="M254 548.4 255 548.4 256 548.4 257 548.4 258 548.4 259 548.4 260 548.4 261 548.4 262 548.4 263 548.4 264 548.4 265 548.4 266 548.4 267 548.4 268 548.4 269 548.4 270 548.4 271 548.4 272 548.4 273 548.4 274 548.4 275 548.4 276 548.4 277 548.4 278 548.4 279 548.4 280 548.4 281 548.3 282 548.1 283 547.8 284 547.1 285 545.8 286 543.9 287 541.0 288 537.1 289 532.6 290 527.8 291 523.6 292 520.8 293 519.9 294 521.2 295 524.4 296 528.7 297 533.5 298 538.0 299 541.6 300 544.3 301 546.1 302 547.2 303 547.8 304 548.2 305 548.3 306 548.4 307 548.4 308 548.4 309 548.4 310 548.4 311 548.4 312 548.4 313 548.4 314 548.4 315 548.4 316 548.4 317 548.4 318 548.4 319 548.4 320 548.4 321 548.4 322 548.4 323 548.4 324 548.4 325 548.4 326 548.4 327 548.4 328 548.4 329 548.4 330 548.4 331 548.4 332 548.4 333 548.4 334 548.4 335 548.4 336 548.4 337 548.4 338 548.4 339 548.4 340 548.4 341 548.4 342 548.4 343 548.4 344 548.4 345 548.4 346 548.4 347 548.4 348 548.4 349 548.4 350 548.4 351 548.4 352 548.4 353 548.4 354 548.4 355 548.4 356 548.4 357 548.4 358 548.4 359 548.4 360 548.4 361 548.4 362 548.4 363 548.4 364 548.4 365 548.4 366 548.4 367 548.4 368 548.4 369 548.4 370 548.4 371 548.4 372 548.4 373 548.4 374 548.4 375 548.4 376 548.4 377 548.4 378 548.4 379 548.4 380 548.4 381 548.4 382 548.4 383 548.4 384 548.4 385 548.4 386 548.4 387 548.4 388 548.4 389 548.4 390 548.4 391 548.4 392 548.4 393 548.4 394 548.4 395 548.4 396 548.4 397 548.4 398 548.4 399 548.4 400 548.4 L400.5 548.4 L254.0 548.4Z" fill="#e1e4f0" stroke="none"/>
<path d="M254 548.4 255 548.4 256 548.4 257 548.4 258 548.4 259 548.4 260 548.4 261 548.4 262 548.4 263 548.4 264 548.4 265 548.4 266 548.4 267 548.4 268 548.4 269 548.4 270 548.4 271 548.4 272 548.4 273 548.4 274 548.4 275 548.4 276 548.4 277 548.4 278 548.4 279 548.4 280 548.4 281 548.4 282 548.4 283 548.4 284 548.4 285 548.4 286 548.4 287 548.4 288 548.4 289 548.4 290 548.4 291 548.4 292 548.4 293 548.4 294 548.4 295 548.4 296 548.4 297 548.4 298 548.4 299 548.4 300 548.3 301 548.1 302 547.8 303 547.1 304 545.9 305 544.0 306 541.4 307 538.2 308 535.0 309 532.4 310 530.9 311 531.1 312 532.8 313 535.6 314 538.9 315 541.9 316 544.3 317 545.9 318 546.7 319 546.7 320 545.8 321 544.0 322 541.3 323 537.7 324 533.8 325 530.3 326 527.9 327 527.3 328 528.7 329 531.6 330 535.4 331 539.2 332 542.5 333 545.0 334 546.6 335 547.5 336 548.0 337 548.2 338 548.3 339 548.4 340 548.4 341 548.4 342 548.4 343 548.4 344 548.4 345 548.4 346 548.4 347 548.3 348 548.2 349 547.9 350 547.2 351 545.8 352 543.2 353 539.0 354 532.9 355 525.1 356 516.6 357 508.9 358 503.7 359 502.4 360 505.3 361 511.7 362 520.0 363 528.4 364 535.6 365 540.9 366 544.3 367 546.1 368 546.6 369 546.1 370 544.5 371 541.7 372 538.0 373 533.5 374 528.9 375 525.3 376 523.5 377 524.0 378 526.6 379 530.7 380 535.3 381 539.6 382 543.0 383 545.4 384 546.9 385 547.7 386 548.1 387 548.3 388 548.4 389 548.4 390 548.4 391 548.4 392 548.4 393 548.4 394 548.4 395 548.4 396 548.4 397 548.4 398 548.4 399 548.4 400 548.4 L400.5 548.4 L254.0 548.4Z" fill="#dcdcd8" stroke="none"/>
<path d="M254 545.5 255 543.6 256 540.9 257 537.7 258 534.3 259 531.2 260 529.1 261 528.5 262 529.5 263 531.8 264 535.0 265 538.4 266 541.5 267 544.0 268 545.9 269 547.0M302 547.7 303 547.2 304 546.5 305 545.7 306 544.8 307 544.0 308 543.4 309 543.2 310 543.4 311 544.0 312 544.8 313 545.7 314 546.5 315 547.2 316 547.7M383 547.6 384 546.8 385 545.2 386 542.7 387 539.0 388 534.0 389 528.1 390 522.0 391 516.9 392 513.6 393 513.0 394 515.3 395 519.8 396 525.6 397 531.7 398 537.1 399 541.4 400 544.4" fill="none" stroke="#4aaf30" stroke-width="1.8" stroke-linejoin="round"/>
<path d="M269 547.1 270 545.7 271 543.3 272 539.6 273 534.8 274 529.3 275 524.0 276 520.1 277 518.7 278 520.1 279 524.0 280 529.3 281 534.8 282 539.6 283 543.3 284 545.7 285 547.1M335 547.4 336 546.5 337 544.9 338 542.5 339 539.5 340 536.3 341 533.4 342 531.5 343 531.2 344 532.5 345 535.0 346 538.2 347 541.4 348 544.0 349 545.9 350 547.1" fill="none" stroke="#fa2424" stroke-width="1.8" stroke-linejoin="round"/>
<path d="M284 547.1 285 545.8 286 543.9 287 541.0 288 537.1 289 532.6 290 527.8 291 523.6 292 520.8 293 519.9 294 521.2 295 524.4 296 528.7 297 533.5 298 538.0 299 541.6 300 544.3 301 546.1 302 547.2" fill="none" stroke="#3444a8" stroke-width="1.8" stroke-linejoin="round"/>
<path d="M303 547.1 304 545.9 305 544.0 306 541.4 307 538.2 308 535.0 309 532.4 310 530.9 311 531.1 312 532.8 313 535.6 314 538.9 315 541.9 316 544.3 317 545.9 318 546.7 319 546.7 320 545.8 321 544.0 322 541.3 323 537.7 324 533.8 325 530.3 326 527.9 327 527.3 328 528.7 329 531.6 330 535.4 331 539.2 332 542.5 333 545.0 334 546.6 335 547.5M350 547.2 351 545.8 352 543.2 353 539.0 354 532.9 355 525.1 356 516.6 357 508.9 358 503.7 359 502.4 360 505.3 361 511.7 362 520.0 363 528.4 364 535.6 365 540.9 366 544.3 367 546.1 368 546.6 369 546.1 370 544.5 371 541.7 372 538.0 373 533.5 374 528.9 375 525.3 376 523.5 377 524.0 378 526.6 379 530.7 380 535.3 381 539.6 382 543.0 383 545.4 384 546.9" fill="none" stroke="#111111" stroke-width="1.8" stroke-linejoin="round"/>
<line x1="254" y1="548.60" x2="400.5" y2="548.60" stroke="#555" stroke-width="0.8"/>
<line x1="254" y1="549.30" x2="400.5" y2="549.30" stroke="#f03434" stroke-width="1"/>
<path d="M254 594.2 255 592.7 256 590.5 257 587.6 258 584.3 259 581.1 260 578.6 261 577.2 262 577.4 263 579.0 264 581.7 265 585.0 266 588.2 267 591.0 268 593.1 269 594.5 270 595.4 271 595.9 272 596.1 273 596.2 274 596.3 275 596.3 276 596.3 277 596.3 278 596.3 279 596.3 280 596.3 281 596.3 282 596.3 283 596.3 284 596.3 285 596.3 286 596.3 287 596.3 288 596.3 289 596.3 290 596.3 291 596.3 292 596.3 293 596.3 294 596.3 295 596.3 296 596.3 297 596.3 298 596.2 299 596.2 300 596.0 301 595.7 302 595.0 303 594.0 304 592.6 305 590.6 306 588.2 307 585.8 308 583.8 309 582.5 310 582.3 311 583.1 312 584.9 313 587.3 314 589.7 315 591.8 316 593.5 317 594.7 318 595.5 319 595.9 320 596.1 321 596.2 322 596.3 323 596.3 324 596.3 325 596.3 326 596.3 327 596.3 328 596.3 329 596.3 330 596.3 331 596.3 332 596.3 333 596.3 334 596.3 335 596.3 336 596.3 337 596.3 338 596.3 339 596.3 340 596.3 341 596.3 342 596.3 343 596.3 344 596.3 345 596.3 346 596.3 347 596.3 348 596.3 349 596.3 350 596.3 351 596.3 352 596.3 353 596.3 354 596.3 355 596.3 356 596.3 357 596.3 358 596.3 359 596.3 360 596.3 361 596.3 362 596.3 363 596.3 364 596.3 365 596.3 366 596.3 367 596.3 368 596.3 369 596.3 370 596.3 371 596.3 372 596.3 373 596.3 374 596.3 375 596.3 376 596.3 377 596.3 378 596.3 379 596.3 380 596.3 381 596.2 382 596.1 383 595.9 384 595.4 385 594.4 386 592.6 387 589.8 388 585.8 389 580.7 390 574.8 391 569.1 392 564.5 393 562.1 394 562.4 395 565.3 396 570.2 397 576.0 398 581.8 399 586.7 400 590.5 L400.5 596.3 L254.0 596.3Z" fill="#dff0d6" stroke="none"/>
<path d="M254 596.3 255 596.3 256 596.3 257 596.3 258 596.3 259 596.3 260 596.3 261 596.3 262 596.3 263 596.3 264 596.3 265 596.3 266 596.3 267 596.2 268 596.0 269 595.6 270 594.7 271 593.1 272 590.5 273 586.6 274 581.7 275 576.3 276 571.6 277 568.5 278 567.9 279 570.1 280 574.3 281 579.6 282 584.7 283 589.1 284 592.2 285 594.2 286 595.3 287 595.9 288 596.1 289 596.2 290 596.3 291 596.3 292 596.3 293 596.3 294 596.3 295 596.3 296 596.3 297 596.3 298 596.3 299 596.3 300 596.3 301 596.3 302 596.3 303 596.3 304 596.3 305 596.3 306 596.3 307 596.3 308 596.3 309 596.3 310 596.3 311 596.3 312 596.3 313 596.3 314 596.3 315 596.3 316 596.3 317 596.3 318 596.3 319 596.3 320 596.3 321 596.3 322 596.3 323 596.3 324 596.3 325 596.3 326 596.3 327 596.3 328 596.3 329 596.3 330 596.3 331 596.3 332 596.3 333 596.2 334 596.0 335 595.6 336 594.9 337 593.6 338 591.6 339 588.9 340 585.7 341 582.7 342 580.4 343 579.4 344 580.1 345 582.1 346 585.1 347 588.3 348 591.1 349 593.2 350 594.6 351 595.5 352 595.9 353 596.2 354 596.2 355 596.3 356 596.3 357 596.3 358 596.3 359 596.3 360 596.3 361 596.3 362 596.3 363 596.3 364 596.3 365 596.3 366 596.3 367 596.3 368 596.3 369 596.3 370 596.3 371 596.3 372 596.3 373 596.3 374 596.3 375 596.3 376 596.3 377 596.3 378 596.3 379 596.3 380 596.3 381 596.3 382 596.3 383 596.3 384 596.3 385 596.3 386 596.3 387 596.3 388 596.3 389 596.3 390 596.3 391 596.3 392 596.3 393 596.3 394 596.3 395 596.3 396 596.3 397 596.3 398 596.3 399 596.3 400 596.3 L400.5 596.3 L254.0 596.3Z" fill="#fcdde0" stroke="none"/>
<path d="M254 596.3 255 596.3 256 596.3 257 596.3 258 596.3 259 596.3 260 596.3 261 596.3 262 596.3 263 596.3 264 596.3 265 596.3 266 596.3 267 596.3 268 596.3 269 596.3 270 596.3 271 596.3 272 596.3 273 596.3 274 596.3 275 596.3 276 596.3 277 596.3 278 596.3 279 596.3 280 596.3 281 596.3 282 596.2 283 596.1 284 595.8 285 595.2 286 594.2 287 592.5 288 589.9 289 586.4 290 582.2 291 577.7 292 573.6 293 570.6 294 569.4 295 570.2 296 572.9 297 576.9 298 581.3 299 585.6 300 589.3 301 592.0 302 593.9 303 595.0 304 595.7 305 596.0 306 596.2 307 596.3 308 596.3 309 596.3 310 596.3 311 596.3 312 596.3 313 596.3 314 596.3 315 596.3 316 596.3 317 596.3 318 596.3 319 596.3 320 596.3 321 596.3 322 596.3 323 596.3 324 596.3 325 596.3 326 596.3 327 596.3 328 596.3 329 596.3 330 596.3 331 596.3 332 596.3 333 596.3 334 596.3 335 596.3 336 596.3 337 596.3 338 596.3 339 596.3 340 596.3 341 596.3 342 596.3 343 596.3 344 596.3 345 596.3 346 596.3 347 596.3 348 596.3 349 596.3 350 596.3 351 596.3 352 596.3 353 596.3 354 596.3 355 596.3 356 596.3 357 596.3 358 596.3 359 596.3 360 596.3 361 596.3 362 596.3 363 596.3 364 596.3 365 596.3 366 596.3 367 596.3 368 596.3 369 596.3 370 596.3 371 596.3 372 596.3 373 596.3 374 596.3 375 596.3 376 596.3 377 596.3 378 596.3 379 596.3 380 596.3 381 596.3 382 596.3 383 596.3 384 596.3 385 596.3 386 596.3 387 596.3 388 596.3 389 596.3 390 596.3 391 596.3 392 596.3 393 596.3 394 596.3 395 596.3 396 596.3 397 596.3 398 596.3 399 596.3 400 596.3 L400.5 596.3 L254.0 596.3Z" fill="#e1e4f0" stroke="none"/>
<path d="M254 596.3 255 596.3 256 596.3 257 596.3 258 596.3 259 596.3 260 596.3 261 596.3 262 596.3 263 596.3 264 596.3 265 596.3 266 596.3 267 596.3 268 596.3 269 596.3 270 596.3 271 596.3 272 596.3 273 596.3 274 596.3 275 596.3 276 596.3 277 596.3 278 596.3 279 596.3 280 596.3 281 596.3 282 596.3 283 596.3 284 596.3 285 596.3 286 596.3 287 596.3 288 596.3 289 596.3 290 596.3 291 596.3 292 596.3 293 596.3 294 596.3 295 596.3 296 596.3 297 596.3 298 596.3 299 596.3 300 596.3 301 596.2 302 596.1 303 595.8 304 595.3 305 594.5 306 593.4 307 592.1 308 590.7 309 589.6 310 588.9 311 588.9 312 589.6 313 590.7 314 592.1 315 593.4 316 594.4 317 595.1 318 595.4 319 595.2 320 594.5 321 593.2 322 591.2 323 588.7 324 585.9 325 583.4 326 581.7 327 581.3 328 582.3 329 584.4 330 587.1 331 589.8 332 592.1 333 593.9 334 595.0 335 595.7 336 596.0 337 596.2 338 596.3 339 596.3 340 596.3 341 596.3 342 596.3 343 596.3 344 596.3 345 596.3 346 596.3 347 596.2 348 596.1 349 595.8 350 595.1 351 593.8 352 591.2 353 587.1 354 581.0 355 573.4 356 565.0 357 557.4 358 552.3 359 551.0 360 553.9 361 560.2 362 568.3 363 576.6 364 583.7 365 588.9 366 592.3 367 594.2 368 595.0 369 594.9 370 594.0 371 592.3 372 589.6 373 586.0 374 581.9 375 578.1 376 575.3 377 574.3 378 575.3 379 578.1 380 581.9 381 586.0 382 589.6 383 592.3 384 594.1 385 595.2 386 595.8 387 596.1 388 596.2 389 596.3 390 596.3 391 596.3 392 596.3 393 596.3 394 596.3 395 596.3 396 596.3 397 596.3 398 596.3 399 596.3 400 596.3 L400.5 596.3 L254.0 596.3Z" fill="#dcdcd8" stroke="none"/>
<path d="M254 594.2 255 592.7 256 590.5 257 587.6 258 584.3 259 581.1 260 578.6 261 577.2 262 577.4 263 579.0 264 581.7 265 585.0 266 588.2 267 591.0 268 593.1 269 594.5 270 595.4M302 595.0 303 594.0 304 592.6 305 590.6 306 588.2 307 585.8 308 583.8 309 582.5 310 582.3 311 583.1 312 584.9 313 587.3 314 589.7 315 591.8 316 593.5 317 594.7 318 595.5M384 595.4 385 594.4 386 592.6 387 589.8 388 585.8 389 580.7 390 574.8 391 569.1 392 564.5 393 562.1 394 562.4 395 565.3 396 570.2 397 576.0 398 581.8 399 586.7 400 590.5" fill="none" stroke="#4aaf30" stroke-width="1.8" stroke-linejoin="round"/>
<path d="M269 595.6 270 594.7 271 593.1 272 590.5 273 586.6 274 581.7 275 576.3 276 571.6 277 568.5 278 567.9 279 570.1 280 574.3 281 579.6 282 584.7 283 589.1 284 592.2 285 594.2 286 595.3M336 594.9 337 593.6 338 591.6 339 588.9 340 585.7 341 582.7 342 580.4 343 579.4 344 580.1 345 582.1 346 585.1 347 588.3 348 591.1 349 593.2 350 594.6 351 595.5" fill="none" stroke="#fa2424" stroke-width="1.8" stroke-linejoin="round"/>
<path d="M285 595.2 286 594.2 287 592.5 288 589.9 289 586.4 290 582.2 291 577.7 292 573.6 293 570.6 294 569.4 295 570.2 296 572.9 297 576.9 298 581.3 299 585.6 300 589.3 301 592.0 302 593.9 303 595.0" fill="none" stroke="#3444a8" stroke-width="1.8" stroke-linejoin="round"/>
<path d="M304 595.3 305 594.5 306 593.4 307 592.1 308 590.7 309 589.6 310 588.9 311 588.9 312 589.6 313 590.7 314 592.1 315 593.4 316 594.4 317 595.1 318 595.4 319 595.2 320 594.5 321 593.2 322 591.2 323 588.7 324 585.9 325 583.4 326 581.7 327 581.3 328 582.3 329 584.4 330 587.1 331 589.8 332 592.1 333 593.9 334 595.0M350 595.1 351 593.8 352 591.2 353 587.1 354 581.0 355 573.4 356 565.0 357 557.4 358 552.3 359 551.0 360 553.9 361 560.2 362 568.3 363 576.6 364 583.7 365 588.9 366 592.3 367 594.2 368 595.0 369 594.9 370 594.0 371 592.3 372 589.6 373 586.0 374 581.9 375 578.1 376 575.3 377 574.3 378 575.3 379 578.1 380 581.9 381 586.0 382 589.6 383 592.3 384 594.1 385 595.2" fill="none" stroke="#111111" stroke-width="1.8" stroke-linejoin="round"/>
<line x1="254" y1="596.50" x2="400.5" y2="596.50" stroke="#555" stroke-width="0.8"/>
<line x1="254" y1="597.20" x2="400.5" y2="597.20" stroke="#f03434" stroke-width="1"/>
<path d="M254 647.3 255 645.7 256 643.3 257 640.4 258 637.0 259 633.7 260 631.0 261 629.6 262 629.8 263 631.5 264 634.3 265 637.7 266 641.0 267 643.9 268 646.0 269 647.5 270 648.4 271 648.9 272 649.2 273 649.3 274 649.4 275 649.4 276 649.4 277 649.4 278 649.4 279 649.4 280 649.4 281 649.4 282 649.4 283 649.4 284 649.4 285 649.4 286 649.4 287 649.4 288 649.4 289 649.4 290 649.4 291 649.4 292 649.4 293 649.4 294 649.4 295 649.4 296 649.4 297 649.4 298 649.3 299 649.1 300 648.8 301 648.2 302 647.1 303 645.4 304 642.9 305 639.8 306 636.3 307 633.0 308 630.4 309 629.1 310 629.4 311 631.3 312 634.3 313 637.7 314 641.1 315 644.0 316 646.1 317 647.6 318 648.5 319 649.0 320 649.2 321 649.3 322 649.4 323 649.4 324 649.4 325 649.4 326 649.4 327 649.4 328 649.4 329 649.4 330 649.4 331 649.4 332 649.4 333 649.4 334 649.4 335 649.4 336 649.4 337 649.4 338 649.4 339 649.4 340 649.4 341 649.4 342 649.4 343 649.4 344 649.4 345 649.4 346 649.4 347 649.4 348 649.4 349 649.4 350 649.4 351 649.4 352 649.4 353 649.4 354 649.4 355 649.4 356 649.4 357 649.4 358 649.4 359 649.4 360 649.4 361 649.4 362 649.4 363 649.4 364 649.4 365 649.4 366 649.4 367 649.4 368 649.4 369 649.4 370 649.4 371 649.4 372 649.4 373 649.4 374 649.4 375 649.4 376 649.4 377 649.4 378 649.4 379 649.4 380 649.4 381 649.3 382 649.2 383 649.0 384 648.4 385 647.4 386 645.5 387 642.6 388 638.4 389 633.0 390 626.8 391 620.8 392 616.0 393 613.4 394 613.7 395 616.8 396 621.9 397 628.1 398 634.1 399 639.3 400 643.3 L400.5 649.4 L254.0 649.4Z" fill="#dff0d6" stroke="none"/>
<path d="M254 649.4 255 649.4 256 649.4 257 649.4 258 649.4 259 649.4 260 649.4 261 649.4 262 649.4 263 649.4 264 649.4 265 649.4 266 649.4 267 649.3 268 649.1 269 648.7 270 647.9 271 646.3 272 643.7 273 639.9 274 635.2 275 629.9 276 625.3 277 622.3 278 621.7 279 623.8 280 627.9 281 633.1 282 638.1 283 642.3 284 645.4 285 647.3 286 648.4 287 649.0 288 649.2 289 649.3 290 649.4 291 649.4 292 649.4 293 649.4 294 649.4 295 649.4 296 649.4 297 649.4 298 649.4 299 649.4 300 649.4 301 649.4 302 649.4 303 649.4 304 649.4 305 649.4 306 649.4 307 649.4 308 649.4 309 649.4 310 649.4 311 649.4 312 649.4 313 649.4 314 649.4 315 649.4 316 649.4 317 649.4 318 649.4 319 649.4 320 649.4 321 649.4 322 649.4 323 649.4 324 649.4 325 649.4 326 649.4 327 649.4 328 649.4 329 649.4 330 649.4 331 649.4 332 649.3 333 649.2 334 648.9 335 648.4 336 647.3 337 645.6 338 643.1 339 639.9 340 636.4 341 633.3 342 631.3 343 631.0 344 632.4 345 635.1 346 638.5 347 641.9 348 644.7 349 646.7 350 648.0 351 648.8 352 649.1 353 649.3 354 649.4 355 649.4 356 649.4 357 649.4 358 649.4 359 649.4 360 649.4 361 649.4 362 649.4 363 649.4 364 649.4 365 649.4 366 649.4 367 649.4 368 649.4 369 649.4 370 649.4 371 649.4 372 649.4 373 649.4 374 649.4 375 649.4 376 649.4 377 649.4 378 649.4 379 649.4 380 649.4 381 649.4 382 649.4 383 649.4 384 649.4 385 649.4 386 649.4 387 649.4 388 649.4 389 649.4 390 649.4 391 649.4 392 649.4 393 649.4 394 649.4 395 649.4 396 649.4 397 649.4 398 649.4 399 649.4 400 649.4 L400.5 649.4 L254.0 649.4Z" fill="#fcdde0" stroke="none"/>
<path d="M254 649.4 255 649.4 256 649.4 257 649.4 258 649.4 259 649.4 260 649.4 261 649.4 262 649.4 263 649.4 264 649.4 265 649.4 266 649.4 267 649.4 268 649.4 269 649.4 270 649.4 271 649.4 272 649.4 273 649.4 274 649.4 275 649.4 276 649.4 277 649.4 278 649.4 279 649.4 280 649.4 281 649.4 282 649.3 283 649.2 284 648.9 285 648.3 286 647.3 287 645.6 288 643.1 289 639.6 290 635.5 291 631.0 292 627.0 293 624.0 294 622.8 295 623.6 296 626.3 297 630.2 298 634.6 299 638.9 300 642.5 301 645.2 302 647.0 303 648.1 304 648.8 305 649.1 306 649.3 307 649.4 308 649.4 309 649.4 310 649.4 311 649.4 312 649.4 313 649.4 314 649.4 315 649.4 316 649.4 317 649.4 318 649.4 319 649.4 320 649.4 321 649.4 322 649.4 323 649.4 324 649.4 325 649.4 326 649.4 327 649.4 328 649.4 329 649.4 330 649.4 331 649.4 332 649.4 333 649.4 334 649.4 335 649.4 336 649.4 337 649.4 338 649.4 339 649.4 340 649.4 341 649.4 342 649.4 343 649.4 344 649.4 345 649.4 346 649.4 347 649.4 348 649.4 349 649.4 350 649.4 351 649.4 352 649.4 353 649.4 354 649.4 355 649.4 356 649.4 357 649.4 358 649.4 359 649.4 360 649.4 361 649.4 362 649.4 363 649.4 364 649.4 365 649.4 366 649.4 367 649.4 368 649.4 369 649.4 370 649.4 371 649.4 372 649.4 373 649.4 374 649.4 375 649.4 376 649.4 377 649.4 378 649.4 379 649.4 380 649.4 381 649.4 382 649.4 383 649.4 384 649.4 385 649.4 386 649.4 387 649.4 388 649.4 389 649.4 390 649.4 391 649.4 392 649.4 393 649.4 394 649.4 395 649.4 396 649.4 397 649.4 398 649.4 399 649.4 400 649.4 L400.5 649.4 L254.0 649.4Z" fill="#e1e4f0" stroke="none"/>
<path d="M254 649.4 255 649.4 256 649.4 257 649.4 258 649.4 259 649.4 260 649.4 261 649.4 262 649.4 263 649.4 264 649.4 265 649.4 266 649.4 267 649.4 268 649.4 269 649.4 270 649.4 271 649.4 272 649.4 273 649.4 274 649.4 275 649.4 276 649.4 277 649.4 278 649.4 279 649.4 280 649.4 281 649.4 282 649.4 283 649.4 284 649.4 285 649.4 286 649.4 287 649.4 288 649.4 289 649.4 290 649.4 291 649.4 292 649.4 293 649.4 294 649.4 295 649.4 296 649.4 297 649.4 298 649.4 299 649.4 300 649.4 301 649.4 302 649.4 303 649.4 304 649.4 305 649.4 306 649.4 307 649.4 308 649.4 309 649.4 310 649.4 311 649.4 312 649.4 313 649.4 314 649.4 315 649.4 316 649.3 317 649.2 318 648.9 319 648.3 320 647.4 321 645.9 322 643.8 323 641.4 324 639.0 325 637.0 326 636.1 327 636.3 328 637.7 329 639.9 330 642.4 331 644.7 332 646.5 333 647.8 334 648.6 335 649.0 336 649.2 337 649.3 338 649.4 339 649.4 340 649.4 341 649.4 342 649.4 343 649.4 344 649.4 345 649.4 346 649.4 347 649.3 348 649.2 349 648.9 350 648.2 351 646.8 352 644.1 353 639.8 354 633.5 355 625.6 356 616.8 357 608.9 358 603.6 359 602.3 360 605.3 361 611.9 362 620.3 363 628.9 364 636.3 365 641.7 366 645.3 367 647.3 368 648.1 369 648.0 370 647.2 371 645.4 372 642.8 373 639.3 374 635.4 375 631.6 376 628.9 377 627.9 378 628.9 379 631.6 380 635.4 381 639.3 382 642.8 383 645.5 384 647.3 385 648.4 386 648.9 387 649.2 388 649.3 389 649.4 390 649.4 391 649.4 392 649.4 393 649.4 394 649.4 395 649.4 396 649.4 397 649.4 398 649.4 399 649.4 400 649.4 L400.5 649.4 L254.0 649.4Z" fill="#dcdcd8" stroke="none"/>
<path d="M254 647.3 255 645.7 256 643.3 257 640.4 258 637.0 259 633.7 260 631.0 261 629.6 262 629.8 263 631.5 264 634.3 265 637.7 266 641.0 267 643.9 268 646.0 269 647.5 270 648.4M301 648.2 302 647.1 303 645.4 304 642.9 305 639.8 306 636.3 307 633.0 308 630.4 309 629.1 310 629.4 311 631.3 312 634.3 313 637.7 314 641.1 315 644.0 316 646.1 317 647.6 318 648.5M384 648.4 385 647.4 386 645.5 387 642.6 388 638.4 389 633.0 390 626.8 391 620.8 392 616.0 393 613.4 394 613.7 395 616.8 396 621.9 397 628.1 398 634.1 399 639.3 400 643.3" fill="none" stroke="#4aaf30" stroke-width="1.8" stroke-linejoin="round"/>
<path d="M270 647.9 271 646.3 272 643.7 273 639.9 274 635.2 275 629.9 276 625.3 277 622.3 278 621.7 279 623.8 280 627.9 281 633.1 282 638.1 283 642.3 284 645.4 285 647.3 286 648.4M335 648.4 336 647.3 337 645.6 338 643.1 339 639.9 340 636.4 341 633.3 342 631.3 343 631.0 344 632.4 345 635.1 346 638.5 347 641.9 348 644.7 349 646.7 350 648.0" fill="none" stroke="#fa2424" stroke-width="1.8" stroke-linejoin="round"/>
<path d="M285 648.3 286 647.3 287 645.6 288 643.1 289 639.6 290 635.5 291 631.0 292 627.0 293 624.0 294 622.8 295 623.6 296 626.3 297 630.2 298 634.6 299 638.9 300 642.5 301 645.2 302 647.0 303 648.1" fill="none" stroke="#3444a8" stroke-width="1.8" stroke-linejoin="round"/>
<path d="M319 648.3 320 647.4 321 645.9 322 643.8 323 641.4 324 639.0 325 637.0 326 636.1 327 636.3 328 637.7 329 639.9 330 642.4 331 644.7 332 646.5 333 647.8 334 648.6M350 648.2 351 646.8 352 644.1 353 639.8 354 633.5 355 625.6 356 616.8 357 608.9 358 603.6 359 602.3 360 605.3 361 611.9 362 620.3 363 628.9 364 636.3 365 641.7 366 645.3 367 647.3 368 648.1 369 648.0 370 647.2 371 645.4 372 642.8 373 639.3 374 635.4 375 631.6 376 628.9 377 627.9 378 628.9 379 631.6 380 635.4 381 639.3 382 642.8 383 645.5 384 647.3 385 648.4" fill="none" stroke="#111111" stroke-width="1.8" stroke-linejoin="round"/>
<line x1="254" y1="649.60" x2="400.5" y2="649.60" stroke="#555" stroke-width="0.8"/>
<line x1="254" y1="650.30" x2="400.5" y2="650.30" stroke="#f03434" stroke-width="1"/>
</g>
<path d="M109.4 655V354.4H125.1V655H109.4" fill="none" stroke="#e61e25" stroke-width="2.3" stroke-dasharray="4.8 4"/>
<path d="M302.4 655V354.4H318.3V655H302.4" fill="none" stroke="#e61e25" stroke-width="2.3" stroke-dasharray="4.8 4"/>
<text x="24.00" y="389.90" font-size="13" font-weight="bold" text-anchor="start" fill="#231f20" textLength="27.45" lengthAdjust="spacingAndGlyphs" >MA0</text>
<text x="24.00" y="440.50" font-size="13" font-weight="bold" text-anchor="start" fill="#231f20" textLength="27.45" lengthAdjust="spacingAndGlyphs" >MA1</text>
<text x="24.00" y="487.60" font-size="13" font-weight="bold" text-anchor="start" fill="#231f20" textLength="27.45" lengthAdjust="spacingAndGlyphs" >MA5</text>
<text x="24.00" y="535.20" font-size="13" font-weight="bold" text-anchor="start" fill="#231f20" textLength="27.45" lengthAdjust="spacingAndGlyphs" >MA8</text>
<text x="24.00" y="585.80" font-size="13" font-weight="bold" text-anchor="start" fill="#231f20" textLength="34.68" lengthAdjust="spacingAndGlyphs" >MA10</text>
<text x="24.00" y="637.20" font-size="13" font-weight="bold" text-anchor="start" fill="#231f20" textLength="34.68" lengthAdjust="spacingAndGlyphs" >MA15</text>
<path d="M488.50 415.50V282.64H503.50V415.50" fill="#e2e2e2" stroke="#000" stroke-width="4" stroke-linejoin="round"/>
<path d="M522.30 415.50V282.64H537.30V415.50" fill="#e5f8e5" stroke="#53d353" stroke-width="4" stroke-linejoin="round"/>
<path d="M522.30 415.50V399.33H537.30V415.50" fill="#e2e2e2" stroke="#000" stroke-width="4" stroke-linejoin="round"/>
<path d="M556.10 415.50V285.74H571.10V415.50" fill="#e5f8e5" stroke="#53d353" stroke-width="4" stroke-linejoin="round"/>
<path d="M589.90 415.50V282.64H604.90V415.50" fill="#e5f8e5" stroke="#53d353" stroke-width="4" stroke-linejoin="round"/>
<path d="M623.70 415.50V282.64H638.70V415.50" fill="#e5f8e5" stroke="#53d353" stroke-width="4" stroke-linejoin="round"/>
<path d="M657.50 415.50V282.64H672.50V415.50" fill="#e5f8e5" stroke="#53d353" stroke-width="4" stroke-linejoin="round"/>
<g stroke="#000" fill="none">
<line x1="479.7" y1="279.35" x2="479.7" y2="417.00" stroke-width="3"/>
<line x1="473.70" y1="415.50" x2="479.7" y2="415.50" stroke-width="2.6"/>
<line x1="473.70" y1="388.55" x2="479.7" y2="388.55" stroke-width="2.6"/>
<line x1="473.70" y1="361.60" x2="479.7" y2="361.60" stroke-width="2.6"/>
<line x1="473.70" y1="334.65" x2="479.7" y2="334.65" stroke-width="2.6"/>
<line x1="473.70" y1="307.70" x2="479.7" y2="307.70" stroke-width="2.6"/>
<line x1="473.70" y1="280.75" x2="479.7" y2="280.75" stroke-width="2.6"/>
<line x1="478.20" y1="415.50" x2="682" y2="415.50" stroke-width="3"/>
<line x1="496.00" y1="415.50" x2="496.00" y2="421.00" stroke-width="2.4"/>
<line x1="529.80" y1="415.50" x2="529.80" y2="421.00" stroke-width="2.4"/>
<line x1="563.60" y1="415.50" x2="563.60" y2="421.00" stroke-width="2.4"/>
<line x1="597.40" y1="415.50" x2="597.40" y2="421.00" stroke-width="2.4"/>
<line x1="631.20" y1="415.50" x2="631.20" y2="421.00" stroke-width="2.4"/>
<line x1="665.00" y1="415.50" x2="665.00" y2="421.00" stroke-width="2.4"/>
</g>
<text x="472.20" y="420.20" font-size="13" font-weight="bold" text-anchor="end" fill="#000" >0</text>
<text x="472.20" y="393.25" font-size="13" font-weight="bold" text-anchor="end" fill="#000" >20</text>
<text x="472.20" y="366.30" font-size="13" font-weight="bold" text-anchor="end" fill="#000" >40</text>
<text x="472.20" y="339.35" font-size="13" font-weight="bold" text-anchor="end" fill="#000" >60</text>
<text x="472.20" y="312.40" font-size="13" font-weight="bold" text-anchor="end" fill="#000" >80</text>
<text x="472.20" y="285.45" font-size="13" font-weight="bold" text-anchor="end" fill="#000" >100</text>
<rect x="536.90" y="258.40" width="17" height="11.5" rx="2.5" fill="#000"/><rect x="541.90" y="262.60" width="7.5" height="2.9" fill="#fff"/>
<text x="561.80" y="269.00" font-size="13.3" font-weight="bold" text-anchor="start" fill="#000" >E</text>
<rect x="594.70" y="258.40" width="17" height="11.5" rx="2.5" fill="#53d353"/><rect x="599.70" y="262.60" width="7.5" height="2.9" fill="#fff"/>
<text x="618.70" y="269.00" font-size="13.3" font-weight="bold" text-anchor="start" fill="#000" >K</text>
<g transform="translate(495.70,439.90) rotate(-40)">
<text x="0.00" y="0.00" font-size="13.4" font-weight="bold" text-anchor="middle" fill="#000" >MA0</text>
</g>
<g transform="translate(529.50,439.90) rotate(-40)">
<text x="0.00" y="0.00" font-size="13.4" font-weight="bold" text-anchor="middle" fill="#000" >MA1</text>
</g>
<g transform="translate(563.30,439.90) rotate(-40)">
<text x="0.00" y="0.00" font-size="13.4" font-weight="bold" text-anchor="middle" fill="#000" >MA5</text>
</g>
<g transform="translate(597.10,439.90) rotate(-40)">
<text x="0.00" y="0.00" font-size="13.4" font-weight="bold" text-anchor="middle" fill="#000" >MA8</text>
</g>
<g transform="translate(630.90,439.90) rotate(-40)">
<text x="0.00" y="0.00" font-size="13.4" font-weight="bold" text-anchor="middle" fill="#000" >MA10</text>
</g>
<g transform="translate(664.70,439.90) rotate(-40)">
<text x="0.00" y="0.00" font-size="13.4" font-weight="bold" text-anchor="middle" fill="#000" >MA15</text>
</g>
<path d="M487.80 627.00V496.36H502.80V627.00" fill="#e2e2e2" stroke="#000" stroke-width="4" stroke-linejoin="round"/>
<path d="M521.00 627.00V496.36H536.00V627.00" fill="#e2e2e2" stroke="#000" stroke-width="4" stroke-linejoin="round"/>
<path d="M554.30 627.00V496.36H569.30V627.00" fill="#e5f8e5" stroke="#53d353" stroke-width="4" stroke-linejoin="round"/>
<path d="M554.30 627.00V503.51H569.30V627.00" fill="#e2e2e2" stroke="#000" stroke-width="4" stroke-linejoin="round"/>
<path d="M587.50 627.00V496.36H602.50V627.00" fill="#e5f8e5" stroke="#53d353" stroke-width="4" stroke-linejoin="round"/>
<path d="M587.50 627.00V527.62H602.50V627.00" fill="#e2e2e2" stroke="#000" stroke-width="4" stroke-linejoin="round"/>
<path d="M620.70 627.00V496.36H635.70V627.00" fill="#e5f8e5" stroke="#53d353" stroke-width="4" stroke-linejoin="round"/>
<path d="M620.70 627.00V591.23H635.70V627.00" fill="#e2e2e2" stroke="#000" stroke-width="4" stroke-linejoin="round"/>
<path d="M653.90 627.00V496.36H668.90V627.00" fill="#e5f8e5" stroke="#53d353" stroke-width="4" stroke-linejoin="round"/>
<g stroke="#000" fill="none">
<line x1="476.8" y1="493.10" x2="476.8" y2="628.50" stroke-width="3"/>
<line x1="470.80" y1="627.00" x2="476.8" y2="627.00" stroke-width="2.6"/>
<line x1="470.80" y1="600.50" x2="476.8" y2="600.50" stroke-width="2.6"/>
<line x1="470.80" y1="574.00" x2="476.8" y2="574.00" stroke-width="2.6"/>
<line x1="470.80" y1="547.50" x2="476.8" y2="547.50" stroke-width="2.6"/>
<line x1="470.80" y1="521.00" x2="476.8" y2="521.00" stroke-width="2.6"/>
<line x1="470.80" y1="494.50" x2="476.8" y2="494.50" stroke-width="2.6"/>
<line x1="475.30" y1="627.00" x2="682" y2="627.00" stroke-width="3"/>
<line x1="495.30" y1="627.00" x2="495.30" y2="632.50" stroke-width="2.4"/>
<line x1="528.50" y1="627.00" x2="528.50" y2="632.50" stroke-width="2.4"/>
<line x1="561.80" y1="627.00" x2="561.80" y2="632.50" stroke-width="2.4"/>
<line x1="595.00" y1="627.00" x2="595.00" y2="632.50" stroke-width="2.4"/>
<line x1="628.20" y1="627.00" x2="628.20" y2="632.50" stroke-width="2.4"/>
<line x1="661.40" y1="627.00" x2="661.40" y2="632.50" stroke-width="2.4"/>
</g>
<text x="469.30" y="631.70" font-size="13" font-weight="bold" text-anchor="end" fill="#000" >0</text>
<text x="469.30" y="605.20" font-size="13" font-weight="bold" text-anchor="end" fill="#000" >20</text>
<text x="469.30" y="578.70" font-size="13" font-weight="bold" text-anchor="end" fill="#000" >40</text>
<text x="469.30" y="552.20" font-size="13" font-weight="bold" text-anchor="end" fill="#000" >60</text>
<text x="469.30" y="525.70" font-size="13" font-weight="bold" text-anchor="end" fill="#000" >80</text>
<text x="469.30" y="499.20" font-size="13" font-weight="bold" text-anchor="end" fill="#000" >100</text>
<rect x="534.60" y="472.00" width="17" height="11.5" rx="2.5" fill="#000"/><rect x="539.60" y="476.20" width="7.5" height="2.9" fill="#fff"/>
<text x="558.80" y="482.60" font-size="13.3" font-weight="bold" text-anchor="start" fill="#000" >G</text>
<rect x="592.40" y="472.00" width="17" height="11.5" rx="2.5" fill="#53d353"/><rect x="597.40" y="476.20" width="7.5" height="2.9" fill="#fff"/>
<text x="616.60" y="482.60" font-size="13.3" font-weight="bold" text-anchor="start" fill="#000" >S</text>
<g transform="translate(495.00,651.40) rotate(-40)">
<text x="0.00" y="0.00" font-size="13.4" font-weight="bold" text-anchor="middle" fill="#000" >MA0</text>
</g>
<g transform="translate(528.20,651.40) rotate(-40)">
<text x="0.00" y="0.00" font-size="13.4" font-weight="bold" text-anchor="middle" fill="#000" >MA1</text>
</g>
<g transform="translate(561.50,651.40) rotate(-40)">
<text x="0.00" y="0.00" font-size="13.4" font-weight="bold" text-anchor="middle" fill="#000" >MA5</text>
</g>
<g transform="translate(594.70,651.40) rotate(-40)">
<text x="0.00" y="0.00" font-size="13.4" font-weight="bold" text-anchor="middle" fill="#000" >MA8</text>
</g>
<g transform="translate(627.90,651.40) rotate(-40)">
<text x="0.00" y="0.00" font-size="13.4" font-weight="bold" text-anchor="middle" fill="#000" >MA10</text>
</g>
<g transform="translate(661.10,651.40) rotate(-40)">
<text x="0.00" y="0.00" font-size="13.4" font-weight="bold" text-anchor="middle" fill="#000" >MA15</text>
</g>
<g transform="translate(428.6,395.7) rotate(-90)">
<text x="0.00" y="0.00" font-size="14" font-weight="bold" text-anchor="start" fill="#000" textLength="97.20" lengthAdjust="spacingAndGlyphs" >Proportion of</text>
</g>
<g transform="translate(446.9,418) rotate(-90)">
<text x="0.00" y="0.00" font-size="14" font-weight="bold" text-anchor="start" fill="#000" textLength="144.80" lengthAdjust="spacingAndGlyphs" >E and K on PB2-627</text>
</g>
<g transform="translate(429,611.8) rotate(-90)">
<text x="0.00" y="0.00" font-size="14" font-weight="bold" text-anchor="start" fill="#000" textLength="97.70" lengthAdjust="spacingAndGlyphs" >Proportion of</text>
</g>
<g transform="translate(447.6,634.4) rotate(-90)">
<text x="0.00" y="0.00" font-size="14" font-weight="bold" text-anchor="start" fill="#000" textLength="146.40" lengthAdjust="spacingAndGlyphs" >G and S on NS1-183</text>
</g></svg></body></html>
